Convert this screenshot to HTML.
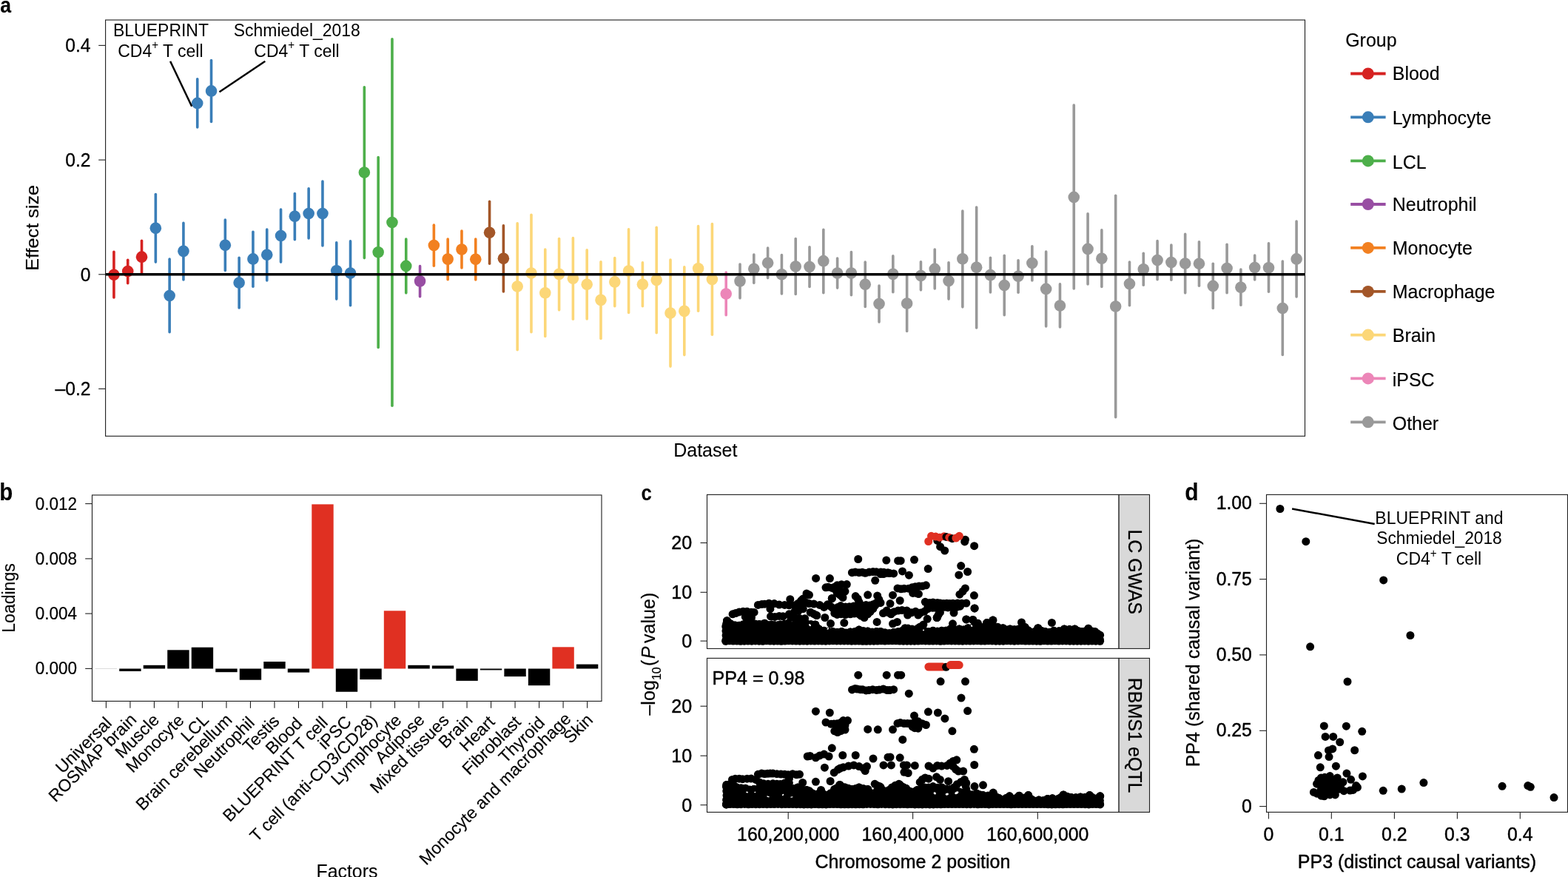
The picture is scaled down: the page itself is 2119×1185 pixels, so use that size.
<!DOCTYPE html>
<html lang="en"><head><meta charset="utf-8"><title>Figure</title>
<style>
html,body{margin:0;padding:0;background:#fff;}
body{width:2119px;height:1185px;overflow:hidden;}
svg{display:block;font-family:'Liberation Sans', Arial, Helvetica, sans-serif;}
text{stroke:#000;stroke-width:0.45px;stroke-linejoin:round;}
</style></head><body>
<svg width="2119" height="1185" viewBox="0 0 2119 1185">
<rect width="2119" height="1185" fill="#fff"/>
<g id="panel-a">
<line x1="153.92" y1="340.22" x2="153.92" y2="401.98" stroke="#D62221" stroke-width="3.6" stroke-linecap="round"/>
<line x1="172.72" y1="351.19" x2="172.72" y2="382.79" stroke="#D62221" stroke-width="3.6" stroke-linecap="round"/>
<line x1="191.52" y1="325.25" x2="191.52" y2="369.71" stroke="#D62221" stroke-width="3.6" stroke-linecap="round"/>
<line x1="210.33" y1="262.59" x2="210.33" y2="354.10" stroke="#3A7EB8" stroke-width="3.6" stroke-linecap="round"/>
<line x1="229.13" y1="350.14" x2="229.13" y2="448.82" stroke="#3A7EB8" stroke-width="3.6" stroke-linecap="round"/>
<line x1="247.93" y1="301.41" x2="247.93" y2="377.94" stroke="#3A7EB8" stroke-width="3.6" stroke-linecap="round"/>
<line x1="266.73" y1="106.70" x2="266.73" y2="171.90" stroke="#3A7EB8" stroke-width="3.6" stroke-linecap="round"/>
<line x1="285.53" y1="81.60" x2="285.53" y2="164.50" stroke="#3A7EB8" stroke-width="3.6" stroke-linecap="round"/>
<line x1="304.34" y1="296.98" x2="304.34" y2="365.49" stroke="#3A7EB8" stroke-width="3.6" stroke-linecap="round"/>
<line x1="323.14" y1="348.24" x2="323.14" y2="415.91" stroke="#3A7EB8" stroke-width="3.6" stroke-linecap="round"/>
<line x1="341.94" y1="313.22" x2="341.94" y2="387.22" stroke="#3A7EB8" stroke-width="3.6" stroke-linecap="round"/>
<line x1="360.74" y1="310.06" x2="360.74" y2="378.99" stroke="#3A7EB8" stroke-width="3.6" stroke-linecap="round"/>
<line x1="379.54" y1="283.06" x2="379.54" y2="354.10" stroke="#3A7EB8" stroke-width="3.6" stroke-linecap="round"/>
<line x1="398.35" y1="261.54" x2="398.35" y2="323.72" stroke="#3A7EB8" stroke-width="3.6" stroke-linecap="round"/>
<line x1="417.15" y1="254.79" x2="417.15" y2="322.04" stroke="#3A7EB8" stroke-width="3.6" stroke-linecap="round"/>
<line x1="435.95" y1="245.09" x2="435.95" y2="331.95" stroke="#3A7EB8" stroke-width="3.6" stroke-linecap="round"/>
<line x1="454.75" y1="327.78" x2="454.75" y2="404.09" stroke="#3A7EB8" stroke-width="3.6" stroke-linecap="round"/>
<line x1="473.55" y1="325.88" x2="473.55" y2="412.74" stroke="#3A7EB8" stroke-width="3.6" stroke-linecap="round"/>
<line x1="492.36" y1="117.70" x2="492.36" y2="348.60" stroke="#4DAF4A" stroke-width="3.6" stroke-linecap="round"/>
<line x1="511.16" y1="212.60" x2="511.16" y2="469.40" stroke="#4DAF4A" stroke-width="3.6" stroke-linecap="round"/>
<line x1="529.96" y1="52.70" x2="529.96" y2="548.20" stroke="#4DAF4A" stroke-width="3.6" stroke-linecap="round"/>
<line x1="548.76" y1="322.93" x2="548.76" y2="395.87" stroke="#4DAF4A" stroke-width="3.6" stroke-linecap="round"/>
<line x1="567.56" y1="359.63" x2="567.56" y2="400.72" stroke="#984EA3" stroke-width="3.6" stroke-linecap="round"/>
<line x1="586.37" y1="304.15" x2="586.37" y2="359.16" stroke="#F28020" stroke-width="3.6" stroke-linecap="round"/>
<line x1="605.17" y1="322.93" x2="605.17" y2="377.73" stroke="#F28020" stroke-width="3.6" stroke-linecap="round"/>
<line x1="623.97" y1="311.96" x2="623.97" y2="361.90" stroke="#F28020" stroke-width="3.6" stroke-linecap="round"/>
<line x1="642.77" y1="322.93" x2="642.77" y2="377.94" stroke="#F28020" stroke-width="3.6" stroke-linecap="round"/>
<line x1="661.57" y1="272.30" x2="661.57" y2="356.21" stroke="#A35628" stroke-width="3.6" stroke-linecap="round"/>
<line x1="680.38" y1="304.78" x2="680.38" y2="393.97" stroke="#A35628" stroke-width="3.6" stroke-linecap="round"/>
<line x1="699.18" y1="301.83" x2="699.18" y2="472.65" stroke="#FCD778" stroke-width="3.6" stroke-linecap="round"/>
<line x1="717.98" y1="290.23" x2="717.98" y2="448.82" stroke="#FCD778" stroke-width="3.6" stroke-linecap="round"/>
<line x1="736.78" y1="337.06" x2="736.78" y2="454.51" stroke="#FCD778" stroke-width="3.6" stroke-linecap="round"/>
<line x1="755.58" y1="322.50" x2="755.58" y2="418.86" stroke="#FCD778" stroke-width="3.6" stroke-linecap="round"/>
<line x1="774.39" y1="321.66" x2="774.39" y2="431.31" stroke="#FCD778" stroke-width="3.6" stroke-linecap="round"/>
<line x1="793.19" y1="337.90" x2="793.19" y2="430.88" stroke="#FCD778" stroke-width="3.6" stroke-linecap="round"/>
<line x1="811.99" y1="353.72" x2="811.99" y2="457.46" stroke="#FCD778" stroke-width="3.6" stroke-linecap="round"/>
<line x1="830.79" y1="348.45" x2="830.79" y2="413.80" stroke="#FCD778" stroke-width="3.6" stroke-linecap="round"/>
<line x1="849.59" y1="309.85" x2="849.59" y2="422.45" stroke="#FCD778" stroke-width="3.6" stroke-linecap="round"/>
<line x1="868.40" y1="354.78" x2="868.40" y2="413.80" stroke="#FCD778" stroke-width="3.6" stroke-linecap="round"/>
<line x1="887.20" y1="307.32" x2="887.20" y2="449.66" stroke="#FCD778" stroke-width="3.6" stroke-linecap="round"/>
<line x1="906.00" y1="350.98" x2="906.00" y2="495.10" stroke="#FCD778" stroke-width="3.6" stroke-linecap="round"/>
<line x1="924.80" y1="360.90" x2="924.80" y2="479.61" stroke="#FCD778" stroke-width="3.6" stroke-linecap="round"/>
<line x1="943.60" y1="305.63" x2="943.60" y2="420.13" stroke="#FCD778" stroke-width="3.6" stroke-linecap="round"/>
<line x1="962.41" y1="302.46" x2="962.41" y2="452.19" stroke="#FCD778" stroke-width="3.6" stroke-linecap="round"/>
<line x1="981.21" y1="368.07" x2="981.21" y2="425.82" stroke="#EC86B8" stroke-width="3.6" stroke-linecap="round"/>
<line x1="1000.01" y1="357.10" x2="1000.01" y2="402.83" stroke="#999999" stroke-width="3.6" stroke-linecap="round"/>
<line x1="1018.81" y1="344.02" x2="1018.81" y2="382.37" stroke="#999999" stroke-width="3.6" stroke-linecap="round"/>
<line x1="1037.61" y1="334.95" x2="1037.61" y2="375.62" stroke="#999999" stroke-width="3.6" stroke-linecap="round"/>
<line x1="1056.42" y1="344.44" x2="1056.42" y2="396.92" stroke="#999999" stroke-width="3.6" stroke-linecap="round"/>
<line x1="1075.22" y1="322.50" x2="1075.22" y2="397.55" stroke="#999999" stroke-width="3.6" stroke-linecap="round"/>
<line x1="1094.02" y1="333.68" x2="1094.02" y2="387.43" stroke="#999999" stroke-width="3.6" stroke-linecap="round"/>
<line x1="1112.82" y1="310.27" x2="1112.82" y2="395.66" stroke="#999999" stroke-width="3.6" stroke-linecap="round"/>
<line x1="1131.62" y1="349.08" x2="1131.62" y2="389.12" stroke="#999999" stroke-width="3.6" stroke-linecap="round"/>
<line x1="1150.43" y1="340.43" x2="1150.43" y2="398.82" stroke="#999999" stroke-width="3.6" stroke-linecap="round"/>
<line x1="1169.23" y1="354.15" x2="1169.23" y2="414.43" stroke="#999999" stroke-width="3.6" stroke-linecap="round"/>
<line x1="1188.03" y1="386.00" x2="1188.03" y2="435.10" stroke="#999999" stroke-width="3.6" stroke-linecap="round"/>
<line x1="1206.83" y1="345.92" x2="1206.83" y2="394.81" stroke="#999999" stroke-width="3.6" stroke-linecap="round"/>
<line x1="1225.63" y1="372.71" x2="1225.63" y2="447.55" stroke="#999999" stroke-width="3.6" stroke-linecap="round"/>
<line x1="1244.44" y1="353.72" x2="1244.44" y2="391.86" stroke="#999999" stroke-width="3.6" stroke-linecap="round"/>
<line x1="1263.24" y1="337.06" x2="1263.24" y2="389.96" stroke="#999999" stroke-width="3.6" stroke-linecap="round"/>
<line x1="1282.04" y1="354.78" x2="1282.04" y2="404.09" stroke="#999999" stroke-width="3.6" stroke-linecap="round"/>
<line x1="1300.84" y1="284.96" x2="1300.84" y2="414.85" stroke="#999999" stroke-width="3.6" stroke-linecap="round"/>
<line x1="1319.64" y1="280.10" x2="1319.64" y2="442.91" stroke="#999999" stroke-width="3.6" stroke-linecap="round"/>
<line x1="1338.45" y1="348.24" x2="1338.45" y2="395.02" stroke="#999999" stroke-width="3.6" stroke-linecap="round"/>
<line x1="1357.25" y1="345.29" x2="1357.25" y2="425.82" stroke="#999999" stroke-width="3.6" stroke-linecap="round"/>
<line x1="1376.05" y1="351.83" x2="1376.05" y2="395.23" stroke="#999999" stroke-width="3.6" stroke-linecap="round"/>
<line x1="1394.85" y1="332.84" x2="1394.85" y2="378.99" stroke="#999999" stroke-width="3.6" stroke-linecap="round"/>
<line x1="1413.65" y1="340.01" x2="1413.65" y2="441.01" stroke="#999999" stroke-width="3.6" stroke-linecap="round"/>
<line x1="1432.46" y1="383.89" x2="1432.46" y2="442.07" stroke="#999999" stroke-width="3.6" stroke-linecap="round"/>
<line x1="1451.26" y1="142.10" x2="1451.26" y2="390.00" stroke="#999999" stroke-width="3.6" stroke-linecap="round"/>
<line x1="1470.06" y1="288.75" x2="1470.06" y2="384.05" stroke="#999999" stroke-width="3.6" stroke-linecap="round"/>
<line x1="1488.86" y1="310.90" x2="1488.86" y2="387.43" stroke="#999999" stroke-width="3.6" stroke-linecap="round"/>
<line x1="1507.66" y1="264.30" x2="1507.66" y2="563.70" stroke="#999999" stroke-width="3.6" stroke-linecap="round"/>
<line x1="1526.47" y1="354.15" x2="1526.47" y2="412.74" stroke="#999999" stroke-width="3.6" stroke-linecap="round"/>
<line x1="1545.27" y1="342.33" x2="1545.27" y2="385.32" stroke="#999999" stroke-width="3.6" stroke-linecap="round"/>
<line x1="1564.07" y1="325.67" x2="1564.07" y2="377.73" stroke="#999999" stroke-width="3.6" stroke-linecap="round"/>
<line x1="1582.87" y1="330.94" x2="1582.87" y2="378.15" stroke="#999999" stroke-width="3.6" stroke-linecap="round"/>
<line x1="1601.67" y1="316.39" x2="1601.67" y2="395.87" stroke="#999999" stroke-width="3.6" stroke-linecap="round"/>
<line x1="1620.48" y1="326.72" x2="1620.48" y2="386.16" stroke="#999999" stroke-width="3.6" stroke-linecap="round"/>
<line x1="1639.28" y1="356.26" x2="1639.28" y2="416.54" stroke="#999999" stroke-width="3.6" stroke-linecap="round"/>
<line x1="1658.08" y1="330.31" x2="1658.08" y2="395.66" stroke="#999999" stroke-width="3.6" stroke-linecap="round"/>
<line x1="1676.88" y1="364.06" x2="1676.88" y2="412.32" stroke="#999999" stroke-width="3.6" stroke-linecap="round"/>
<line x1="1695.68" y1="345.08" x2="1695.68" y2="377.94" stroke="#999999" stroke-width="3.6" stroke-linecap="round"/>
<line x1="1714.49" y1="328.83" x2="1714.49" y2="394.18" stroke="#999999" stroke-width="3.6" stroke-linecap="round"/>
<line x1="1733.29" y1="353.09" x2="1733.29" y2="479.40" stroke="#999999" stroke-width="3.6" stroke-linecap="round"/>
<line x1="1752.09" y1="299.09" x2="1752.09" y2="400.93" stroke="#999999" stroke-width="3.6" stroke-linecap="round"/>
<circle cx="153.92" cy="371.21" r="7.8" fill="#D62221"/>
<circle cx="172.72" cy="366.57" r="7.8" fill="#D62221"/>
<circle cx="191.52" cy="347.16" r="7.8" fill="#D62221"/>
<circle cx="210.33" cy="308.35" r="7.8" fill="#3A7EB8"/>
<circle cx="229.13" cy="399.48" r="7.8" fill="#3A7EB8"/>
<circle cx="247.93" cy="339.36" r="7.8" fill="#3A7EB8"/>
<circle cx="266.73" cy="139.40" r="7.8" fill="#3A7EB8"/>
<circle cx="285.53" cy="122.90" r="7.8" fill="#3A7EB8"/>
<circle cx="304.34" cy="331.34" r="7.8" fill="#3A7EB8"/>
<circle cx="323.14" cy="381.97" r="7.8" fill="#3A7EB8"/>
<circle cx="341.94" cy="349.90" r="7.8" fill="#3A7EB8"/>
<circle cx="360.74" cy="344.21" r="7.8" fill="#3A7EB8"/>
<circle cx="379.54" cy="318.47" r="7.8" fill="#3A7EB8"/>
<circle cx="398.35" cy="292.32" r="7.8" fill="#3A7EB8"/>
<circle cx="417.15" cy="288.52" r="7.8" fill="#3A7EB8"/>
<circle cx="435.95" cy="288.52" r="7.8" fill="#3A7EB8"/>
<circle cx="454.75" cy="365.73" r="7.8" fill="#3A7EB8"/>
<circle cx="473.55" cy="369.10" r="7.8" fill="#3A7EB8"/>
<circle cx="492.36" cy="233.10" r="7.8" fill="#4DAF4A"/>
<circle cx="511.16" cy="340.80" r="7.8" fill="#4DAF4A"/>
<circle cx="529.96" cy="300.50" r="7.8" fill="#4DAF4A"/>
<circle cx="548.76" cy="359.40" r="7.8" fill="#4DAF4A"/>
<circle cx="567.56" cy="379.86" r="7.8" fill="#984EA3"/>
<circle cx="586.37" cy="331.55" r="7.8" fill="#F28020"/>
<circle cx="605.17" cy="350.11" r="7.8" fill="#F28020"/>
<circle cx="623.97" cy="337.04" r="7.8" fill="#F28020"/>
<circle cx="642.77" cy="350.33" r="7.8" fill="#F28020"/>
<circle cx="661.57" cy="314.25" r="7.8" fill="#A35628"/>
<circle cx="680.38" cy="349.27" r="7.8" fill="#A35628"/>
<circle cx="699.18" cy="387.03" r="7.8" fill="#FCD778"/>
<circle cx="717.98" cy="369.10" r="7.8" fill="#FCD778"/>
<circle cx="736.78" cy="395.68" r="7.8" fill="#FCD778"/>
<circle cx="755.58" cy="370.37" r="7.8" fill="#FCD778"/>
<circle cx="774.39" cy="376.27" r="7.8" fill="#FCD778"/>
<circle cx="793.19" cy="384.29" r="7.8" fill="#FCD778"/>
<circle cx="811.99" cy="405.38" r="7.8" fill="#FCD778"/>
<circle cx="830.79" cy="380.91" r="7.8" fill="#FCD778"/>
<circle cx="849.59" cy="365.94" r="7.8" fill="#FCD778"/>
<circle cx="868.40" cy="384.29" r="7.8" fill="#FCD778"/>
<circle cx="887.20" cy="378.38" r="7.8" fill="#FCD778"/>
<circle cx="906.00" cy="423.10" r="7.8" fill="#FCD778"/>
<circle cx="924.80" cy="420.36" r="7.8" fill="#FCD778"/>
<circle cx="943.60" cy="362.77" r="7.8" fill="#FCD778"/>
<circle cx="962.41" cy="377.54" r="7.8" fill="#FCD778"/>
<circle cx="981.21" cy="396.95" r="7.8" fill="#EC86B8"/>
<circle cx="1000.01" cy="379.86" r="7.8" fill="#999999"/>
<circle cx="1018.81" cy="363.19" r="7.8" fill="#999999"/>
<circle cx="1037.61" cy="355.18" r="7.8" fill="#999999"/>
<circle cx="1056.42" cy="370.79" r="7.8" fill="#999999"/>
<circle cx="1075.22" cy="360.03" r="7.8" fill="#999999"/>
<circle cx="1094.02" cy="360.45" r="7.8" fill="#999999"/>
<circle cx="1112.82" cy="352.65" r="7.8" fill="#999999"/>
<circle cx="1131.62" cy="369.10" r="7.8" fill="#999999"/>
<circle cx="1150.43" cy="369.10" r="7.8" fill="#999999"/>
<circle cx="1169.23" cy="384.29" r="7.8" fill="#999999"/>
<circle cx="1188.03" cy="410.45" r="7.8" fill="#999999"/>
<circle cx="1206.83" cy="370.37" r="7.8" fill="#999999"/>
<circle cx="1225.63" cy="410.02" r="7.8" fill="#999999"/>
<circle cx="1244.44" cy="372.48" r="7.8" fill="#999999"/>
<circle cx="1263.24" cy="363.40" r="7.8" fill="#999999"/>
<circle cx="1282.04" cy="379.44" r="7.8" fill="#999999"/>
<circle cx="1300.84" cy="349.69" r="7.8" fill="#999999"/>
<circle cx="1319.64" cy="361.30" r="7.8" fill="#999999"/>
<circle cx="1338.45" cy="371.63" r="7.8" fill="#999999"/>
<circle cx="1357.25" cy="385.55" r="7.8" fill="#999999"/>
<circle cx="1376.05" cy="373.32" r="7.8" fill="#999999"/>
<circle cx="1394.85" cy="355.60" r="7.8" fill="#999999"/>
<circle cx="1413.65" cy="390.41" r="7.8" fill="#999999"/>
<circle cx="1432.46" cy="412.98" r="7.8" fill="#999999"/>
<circle cx="1451.26" cy="266.40" r="7.8" fill="#999999"/>
<circle cx="1470.06" cy="336.40" r="7.8" fill="#999999"/>
<circle cx="1488.86" cy="349.27" r="7.8" fill="#999999"/>
<circle cx="1507.66" cy="414.03" r="7.8" fill="#999999"/>
<circle cx="1526.47" cy="383.44" r="7.8" fill="#999999"/>
<circle cx="1545.27" cy="363.83" r="7.8" fill="#999999"/>
<circle cx="1564.07" cy="351.59" r="7.8" fill="#999999"/>
<circle cx="1582.87" cy="354.54" r="7.8" fill="#999999"/>
<circle cx="1601.67" cy="356.02" r="7.8" fill="#999999"/>
<circle cx="1620.48" cy="356.23" r="7.8" fill="#999999"/>
<circle cx="1639.28" cy="386.40" r="7.8" fill="#999999"/>
<circle cx="1658.08" cy="362.56" r="7.8" fill="#999999"/>
<circle cx="1676.88" cy="388.30" r="7.8" fill="#999999"/>
<circle cx="1695.68" cy="361.51" r="7.8" fill="#999999"/>
<circle cx="1714.49" cy="361.72" r="7.8" fill="#999999"/>
<circle cx="1733.29" cy="416.56" r="7.8" fill="#999999"/>
<circle cx="1752.09" cy="349.90" r="7.8" fill="#999999"/>
<line x1="142.60" y1="370.80" x2="1763.50" y2="370.80" stroke="#000" stroke-width="3.6"/>
<rect x="142.60" y="27.00" width="1620.90" height="562.30" fill="none" stroke="#202020" stroke-width="1.12"/>
<line x1="133.20" y1="61.40" x2="142.60" y2="61.40" stroke="#202020" stroke-width="1.1"/>
<text font-size="26" text-anchor="end" transform="translate(122.50 70.20) scale(0.95 1)" style="stroke-width:0.3px">0.4</text>
<line x1="133.20" y1="216.10" x2="142.60" y2="216.10" stroke="#202020" stroke-width="1.1"/>
<text font-size="26" text-anchor="end" transform="translate(122.50 224.90) scale(0.95 1)" style="stroke-width:0.3px">0.2</text>
<line x1="133.20" y1="370.80" x2="142.60" y2="370.80" stroke="#202020" stroke-width="1.1"/>
<text font-size="26" text-anchor="end" transform="translate(122.50 379.60) scale(0.95 1)" style="stroke-width:0.3px">0</text>
<line x1="133.20" y1="525.40" x2="142.60" y2="525.40" stroke="#202020" stroke-width="1.1"/>
<text font-size="26" text-anchor="end" transform="translate(122.50 534.20) scale(0.95 1)" style="stroke-width:0.3px">–0.2</text>
<text font-size="24.5" text-anchor="middle" transform="translate(51.80 307.90) rotate(-90) scale(1.03 1)" style="stroke-width:0.15px">Effect size</text>
<text font-size="25" text-anchor="middle" x="953.30" y="616.60" style="stroke-width:0.1px">Dataset</text>
<text font-size="24.2" text-anchor="middle" transform="translate(217.50 49.40) scale(0.95 1)" style="stroke:none">BLUEPRINT</text>
<text font-size="24.2" text-anchor="middle" transform="translate(216.90 76.70) scale(0.95 1)" style="stroke:none">CD4<tspan dy="-10.4" font-size="16">+</tspan><tspan dy="10.4"> T cell</tspan></text>
<text font-size="24.2" text-anchor="middle" transform="translate(401.30 49.40) scale(0.95 1)" style="stroke:none">Schmiedel_2018</text>
<text font-size="24.2" text-anchor="middle" transform="translate(401.00 76.70) scale(0.95 1)" style="stroke:none">CD4<tspan dy="-10.4" font-size="16">+</tspan><tspan dy="10.4"> T cell</tspan></text>
<line x1="230.10" y1="82.70" x2="259.20" y2="143.80" stroke="#000" stroke-width="2.5"/>
<line x1="358.30" y1="82.70" x2="296.50" y2="124.20" stroke="#000" stroke-width="2.5"/>
<text font-size="30" transform="translate(0.30 17.30) scale(0.89 1)" font-weight="bold" style="stroke-width:0.1px">a</text>
<text font-size="25.2" transform="translate(1818.20 62.50) scale(0.99 1)" style="stroke-width:0.15px">Group</text>
<line x1="1825.20" y1="99.50" x2="1872.60" y2="99.50" stroke="#D62221" stroke-width="3.8"/>
<circle cx="1848.80" cy="99.50" r="8.0" fill="#D62221"/>
<text font-size="25.2" transform="translate(1881.80 107.60) scale(0.99 1)" style="stroke-width:0.15px">Blood</text>
<line x1="1825.20" y1="158.30" x2="1872.60" y2="158.30" stroke="#3A7EB8" stroke-width="3.8"/>
<circle cx="1848.80" cy="158.30" r="8.0" fill="#3A7EB8"/>
<text font-size="25.2" transform="translate(1881.80 168.10) scale(0.99 1)" style="stroke-width:0.15px">Lymphocyte</text>
<line x1="1825.20" y1="217.40" x2="1872.60" y2="217.40" stroke="#4DAF4A" stroke-width="3.8"/>
<circle cx="1848.80" cy="217.40" r="8.0" fill="#4DAF4A"/>
<text font-size="25.2" transform="translate(1881.80 228.00) scale(0.99 1)" style="stroke-width:0.15px">LCL</text>
<line x1="1825.20" y1="276.00" x2="1872.60" y2="276.00" stroke="#984EA3" stroke-width="3.8"/>
<circle cx="1848.80" cy="276.00" r="8.0" fill="#984EA3"/>
<text font-size="25.2" transform="translate(1881.80 284.90) scale(0.99 1)" style="stroke-width:0.15px">Neutrophil</text>
<line x1="1825.20" y1="334.90" x2="1872.60" y2="334.90" stroke="#F28020" stroke-width="3.8"/>
<circle cx="1848.80" cy="334.90" r="8.0" fill="#F28020"/>
<text font-size="25.2" transform="translate(1881.80 343.80) scale(0.99 1)" style="stroke-width:0.15px">Monocyte</text>
<line x1="1825.20" y1="393.90" x2="1872.60" y2="393.90" stroke="#A35628" stroke-width="3.8"/>
<circle cx="1848.80" cy="393.90" r="8.0" fill="#A35628"/>
<text font-size="25.2" transform="translate(1881.80 403.20) scale(0.99 1)" style="stroke-width:0.15px">Macrophage</text>
<line x1="1825.20" y1="452.60" x2="1872.60" y2="452.60" stroke="#FCD778" stroke-width="3.8"/>
<circle cx="1848.80" cy="452.60" r="8.0" fill="#FCD778"/>
<text font-size="25.2" transform="translate(1881.80 461.60) scale(0.99 1)" style="stroke-width:0.15px">Brain</text>
<line x1="1825.20" y1="511.40" x2="1872.60" y2="511.40" stroke="#EC86B8" stroke-width="3.8"/>
<circle cx="1848.80" cy="511.40" r="8.0" fill="#EC86B8"/>
<text font-size="25.2" transform="translate(1881.80 522.00) scale(0.99 1)" style="stroke-width:0.15px">iPSC</text>
<line x1="1825.20" y1="570.30" x2="1872.60" y2="570.30" stroke="#999999" stroke-width="3.8"/>
<circle cx="1848.80" cy="570.30" r="8.0" fill="#999999"/>
<text font-size="25.2" transform="translate(1881.80 581.00) scale(0.99 1)" style="stroke-width:0.15px">Other</text>
</g>
<g id="panel-b">
<rect x="128.70" y="903.20" width="29.40" height="0.30" fill="#888"/>
<rect x="161.21" y="903.50" width="29.40" height="3.45" fill="#000"/>
<rect x="193.72" y="898.80" width="29.40" height="4.70" fill="#000"/>
<rect x="226.23" y="878.30" width="29.40" height="25.20" fill="#000"/>
<rect x="258.74" y="874.70" width="29.40" height="28.80" fill="#000"/>
<rect x="291.25" y="903.50" width="29.40" height="4.70" fill="#000"/>
<rect x="323.76" y="903.50" width="29.40" height="15.20" fill="#000"/>
<rect x="356.27" y="894.00" width="29.40" height="9.50" fill="#000"/>
<rect x="388.78" y="903.50" width="29.40" height="5.10" fill="#000"/>
<rect x="421.29" y="681.40" width="29.40" height="222.10" fill="#E03022"/>
<rect x="453.80" y="903.50" width="29.40" height="31.25" fill="#000"/>
<rect x="486.31" y="903.50" width="29.40" height="14.60" fill="#000"/>
<rect x="518.82" y="825.30" width="29.40" height="78.20" fill="#E03022"/>
<rect x="551.33" y="898.80" width="29.40" height="4.70" fill="#000"/>
<rect x="583.84" y="899.40" width="29.40" height="4.10" fill="#000"/>
<rect x="616.35" y="903.50" width="29.40" height="16.40" fill="#000"/>
<rect x="648.86" y="903.50" width="29.40" height="1.90" fill="#000"/>
<rect x="681.37" y="903.50" width="29.40" height="10.60" fill="#000"/>
<rect x="713.88" y="903.50" width="29.40" height="22.70" fill="#000"/>
<rect x="746.39" y="874.30" width="29.40" height="29.20" fill="#E03022"/>
<rect x="778.90" y="897.60" width="29.40" height="5.90" fill="#000"/>
<rect x="124.50" y="668.95" width="688.50" height="278.50" fill="none" stroke="#202020" stroke-width="1.12"/>
<line x1="115.20" y1="680.60" x2="124.50" y2="680.60" stroke="#202020" stroke-width="1.1"/>
<text font-size="24.1" text-anchor="end" transform="translate(104.00 688.50) scale(0.935 1)" style="stroke-width:0.2px">0.012</text>
<line x1="115.20" y1="754.90" x2="124.50" y2="754.90" stroke="#202020" stroke-width="1.1"/>
<text font-size="24.1" text-anchor="end" transform="translate(104.00 762.80) scale(0.935 1)" style="stroke-width:0.2px">0.008</text>
<line x1="115.20" y1="829.10" x2="124.50" y2="829.10" stroke="#202020" stroke-width="1.1"/>
<text font-size="24.1" text-anchor="end" transform="translate(104.00 837.00) scale(0.935 1)" style="stroke-width:0.2px">0.004</text>
<line x1="115.20" y1="903.40" x2="124.50" y2="903.40" stroke="#202020" stroke-width="1.1"/>
<text font-size="24.1" text-anchor="end" transform="translate(104.00 911.30) scale(0.935 1)" style="stroke-width:0.2px">0.000</text>
<line x1="143.40" y1="947.45" x2="143.40" y2="956.85" stroke="#202020" stroke-width="1.1"/>
<text font-size="23" text-anchor="end" transform="translate(152.40 978.50) rotate(-45) scale(1.0 1)" style="stroke-width:0.15px">Universal</text>
<line x1="175.91" y1="947.45" x2="175.91" y2="956.85" stroke="#202020" stroke-width="1.1"/>
<text font-size="23" text-anchor="end" transform="translate(185.81 973.80) rotate(-45) scale(1.0 1)" style="stroke-width:0.15px">ROSMAP brain</text>
<line x1="208.42" y1="947.45" x2="208.42" y2="956.85" stroke="#202020" stroke-width="1.1"/>
<text font-size="23" text-anchor="end" transform="translate(216.52 974.20) rotate(-45) scale(1.0 1)" style="stroke-width:0.15px">Muscle</text>
<line x1="240.93" y1="947.45" x2="240.93" y2="956.85" stroke="#202020" stroke-width="1.1"/>
<text font-size="23" text-anchor="end" transform="translate(249.93 974.70) rotate(-45) scale(1.0 1)" style="stroke-width:0.15px">Monocyte</text>
<line x1="273.44" y1="947.45" x2="273.44" y2="956.85" stroke="#202020" stroke-width="1.1"/>
<text font-size="23" text-anchor="end" transform="translate(283.64 974.00) rotate(-45) scale(1.0 1)" style="stroke-width:0.15px">LCL</text>
<line x1="305.95" y1="947.45" x2="305.95" y2="956.85" stroke="#202020" stroke-width="1.1"/>
<text font-size="23" text-anchor="end" transform="translate(314.95 974.20) rotate(-45) scale(1.0 1)" style="stroke-width:0.15px">Brain cerebellum</text>
<line x1="338.46" y1="947.45" x2="338.46" y2="956.85" stroke="#202020" stroke-width="1.1"/>
<text font-size="23" text-anchor="end" transform="translate(345.26 978.00) rotate(-45) scale(1.0 1)" style="stroke-width:0.15px">Neutrophil</text>
<line x1="370.97" y1="947.45" x2="370.97" y2="956.85" stroke="#202020" stroke-width="1.1"/>
<text font-size="23" text-anchor="end" transform="translate(378.97 975.80) rotate(-45) scale(1.0 1)" style="stroke-width:0.15px">Testis</text>
<line x1="403.48" y1="947.45" x2="403.48" y2="956.85" stroke="#202020" stroke-width="1.1"/>
<text font-size="23" text-anchor="end" transform="translate(409.88 978.90) rotate(-45) scale(1.0 1)" style="stroke-width:0.15px">Blood</text>
<line x1="435.99" y1="947.45" x2="435.99" y2="956.85" stroke="#202020" stroke-width="1.1"/>
<text font-size="23" text-anchor="end" transform="translate(444.39 977.70) rotate(-45) scale(1.0 1)" style="stroke-width:0.15px">BLUEPRINT T cell</text>
<line x1="468.50" y1="947.45" x2="468.50" y2="956.85" stroke="#202020" stroke-width="1.1"/>
<text font-size="23" text-anchor="end" transform="translate(476.30 976.70) rotate(-45) scale(1.0 1)" style="stroke-width:0.15px">iPSC</text>
<line x1="501.01" y1="947.45" x2="501.01" y2="956.85" stroke="#202020" stroke-width="1.1"/>
<text font-size="23" text-anchor="end" transform="translate(511.21 974.60) rotate(-45) scale(1.0 1)" style="stroke-width:0.15px">T cell (anti-CD3/CD28)</text>
<line x1="533.52" y1="947.45" x2="533.52" y2="956.85" stroke="#202020" stroke-width="1.1"/>
<text font-size="23" text-anchor="end" transform="translate(543.72 974.80) rotate(-45) scale(1.0 1)" style="stroke-width:0.15px">Lymphocyte</text>
<line x1="566.03" y1="947.45" x2="566.03" y2="956.85" stroke="#202020" stroke-width="1.1"/>
<text font-size="23" text-anchor="end" transform="translate(575.03 974.20) rotate(-45) scale(1.0 1)" style="stroke-width:0.15px">Adipose</text>
<line x1="598.54" y1="947.45" x2="598.54" y2="956.85" stroke="#202020" stroke-width="1.1"/>
<text font-size="23" text-anchor="end" transform="translate(608.04 974.70) rotate(-45) scale(1.0 1)" style="stroke-width:0.15px">Mixed tissues</text>
<line x1="631.05" y1="947.45" x2="631.05" y2="956.85" stroke="#202020" stroke-width="1.1"/>
<text font-size="23" text-anchor="end" transform="translate(640.05 974.20) rotate(-45) scale(1.0 1)" style="stroke-width:0.15px">Brain</text>
<line x1="663.56" y1="947.45" x2="663.56" y2="956.85" stroke="#202020" stroke-width="1.1"/>
<text font-size="23" text-anchor="end" transform="translate(670.06 976.70) rotate(-45) scale(1.0 1)" style="stroke-width:0.15px">Heart</text>
<line x1="696.07" y1="947.45" x2="696.07" y2="956.85" stroke="#202020" stroke-width="1.1"/>
<text font-size="23" text-anchor="end" transform="translate(705.37 976.90) rotate(-45) scale(1.0 1)" style="stroke-width:0.15px">Fibroblast</text>
<line x1="728.58" y1="947.45" x2="728.58" y2="956.85" stroke="#202020" stroke-width="1.1"/>
<text font-size="23" text-anchor="end" transform="translate(737.58 978.00) rotate(-45) scale(1.0 1)" style="stroke-width:0.15px">Thyroid</text>
<line x1="761.09" y1="947.45" x2="761.09" y2="956.85" stroke="#202020" stroke-width="1.1"/>
<text font-size="23" text-anchor="end" transform="translate(773.09 972.80) rotate(-45) scale(1.0 1)" style="stroke-width:0.15px">Monocyte and macrophage</text>
<line x1="793.60" y1="947.45" x2="793.60" y2="956.85" stroke="#202020" stroke-width="1.1"/>
<text font-size="23" text-anchor="end" transform="translate(802.60 974.20) rotate(-45) scale(1.0 1)" style="stroke-width:0.15px">Skin</text>
<text font-size="23" text-anchor="middle" transform="translate(20.40 808.00) rotate(-90)" style="stroke-width:0.15px">Loadings</text>
<text font-size="26.6" text-anchor="middle" transform="translate(468.90 1185.60) scale(0.935 1)" style="stroke-width:0.1px">Factors</text>
<text font-size="32.7" transform="translate(-0.70 676.40) scale(0.9 1)" font-weight="bold" style="stroke-width:0.1px">b</text>
</g>
<g id="panel-c">
<g fill="#000" stroke="#000" stroke-width="11" stroke-linecap="round" stroke-linejoin="round">
<polygon points="980.8,866.3 980.8,846.4 982.5,838.7 987.2,842.8 999.0,845.2 1009.6,840.4 1026.2,843.4 1033.3,842.2 1042.7,844.0 1066.4,841.6 1090.0,842.8 1101.8,844.0 1106.5,849.9 1113.6,852.3 1125.4,853.4 1137.3,853.4 1149.1,854.0 1160.9,851.1 1172.7,852.9 1184.5,853.4 1190.0,853.4 1207.7,854.6 1219.5,852.3 1237.3,853.4 1249.1,852.3 1260.9,852.3 1272.7,852.3 1284.5,849.9 1296.4,849.9 1308.2,848.7 1320.0,846.4 1331.8,846.4 1341.3,844.0 1355.4,848.7 1356.7,849.9 1365.0,849.9 1376.8,849.9 1385.1,847.5 1394.5,854.6 1402.8,848.7 1412.3,853.4 1424.1,852.3 1438.3,849.9 1452.4,849.9 1461.9,853.4 1470.8,849.3 1479.6,853.4 1486.6,858.2 1486.6,866.3" stroke="none"/>
<circle cx="981.6" cy="846.4" r="5.5" stroke="none"/>
<circle cx="981.0" cy="852.4" r="5.5" stroke="none"/>
<circle cx="981.1" cy="858.4" r="5.5" stroke="none"/>
<circle cx="981.2" cy="864.4" r="5.5" stroke="none"/>
<circle cx="980.8" cy="866.3" r="5.5" stroke="none"/>
<circle cx="1486.1" cy="858.2" r="5.5" stroke="none"/>
<circle cx="1486.4" cy="864.2" r="5.5" stroke="none"/>
<circle cx="1486.6" cy="866.3" r="5.5" stroke="none"/>
<circle cx="980.8" cy="865.9" r="5.5" stroke="none"/>
<circle cx="985.8" cy="865.8" r="5.5" stroke="none"/>
<circle cx="990.8" cy="866.1" r="5.5" stroke="none"/>
<circle cx="995.8" cy="866.1" r="5.5" stroke="none"/>
<circle cx="1000.8" cy="866.3" r="5.5" stroke="none"/>
<circle cx="1005.8" cy="866.2" r="5.5" stroke="none"/>
<circle cx="1010.8" cy="866.1" r="5.5" stroke="none"/>
<circle cx="1015.8" cy="866.2" r="5.5" stroke="none"/>
<circle cx="1020.8" cy="865.9" r="5.5" stroke="none"/>
<circle cx="1025.8" cy="866.2" r="5.5" stroke="none"/>
<circle cx="1030.8" cy="866.3" r="5.5" stroke="none"/>
<circle cx="1035.8" cy="865.8" r="5.5" stroke="none"/>
<circle cx="1040.8" cy="866.0" r="5.5" stroke="none"/>
<circle cx="1045.8" cy="866.2" r="5.5" stroke="none"/>
<circle cx="1050.8" cy="866.0" r="5.5" stroke="none"/>
<circle cx="1055.8" cy="866.3" r="5.5" stroke="none"/>
<circle cx="1060.8" cy="866.0" r="5.5" stroke="none"/>
<circle cx="1065.8" cy="865.8" r="5.5" stroke="none"/>
<circle cx="1070.8" cy="865.9" r="5.5" stroke="none"/>
<circle cx="1075.8" cy="866.0" r="5.5" stroke="none"/>
<circle cx="1080.8" cy="866.2" r="5.5" stroke="none"/>
<circle cx="1085.8" cy="866.1" r="5.5" stroke="none"/>
<circle cx="1090.8" cy="866.2" r="5.5" stroke="none"/>
<circle cx="1095.8" cy="865.9" r="5.5" stroke="none"/>
<circle cx="1100.8" cy="866.0" r="5.5" stroke="none"/>
<circle cx="1105.8" cy="865.9" r="5.5" stroke="none"/>
<circle cx="1110.8" cy="866.1" r="5.5" stroke="none"/>
<circle cx="1115.8" cy="866.2" r="5.5" stroke="none"/>
<circle cx="1120.8" cy="865.9" r="5.5" stroke="none"/>
<circle cx="1125.8" cy="865.8" r="5.5" stroke="none"/>
<circle cx="1130.8" cy="865.9" r="5.5" stroke="none"/>
<circle cx="1135.8" cy="865.9" r="5.5" stroke="none"/>
<circle cx="1140.8" cy="865.9" r="5.5" stroke="none"/>
<circle cx="1145.8" cy="865.9" r="5.5" stroke="none"/>
<circle cx="1150.8" cy="866.2" r="5.5" stroke="none"/>
<circle cx="1155.8" cy="866.0" r="5.5" stroke="none"/>
<circle cx="1160.8" cy="866.1" r="5.5" stroke="none"/>
<circle cx="1165.8" cy="866.3" r="5.5" stroke="none"/>
<circle cx="1170.8" cy="866.3" r="5.5" stroke="none"/>
<circle cx="1175.8" cy="866.2" r="5.5" stroke="none"/>
<circle cx="1180.8" cy="866.2" r="5.5" stroke="none"/>
<circle cx="1185.8" cy="866.0" r="5.5" stroke="none"/>
<circle cx="1190.8" cy="865.8" r="5.5" stroke="none"/>
<circle cx="1195.8" cy="866.1" r="5.5" stroke="none"/>
<circle cx="1200.8" cy="865.8" r="5.5" stroke="none"/>
<circle cx="1205.8" cy="865.8" r="5.5" stroke="none"/>
<circle cx="1210.8" cy="865.8" r="5.5" stroke="none"/>
<circle cx="1215.8" cy="866.1" r="5.5" stroke="none"/>
<circle cx="1220.8" cy="866.2" r="5.5" stroke="none"/>
<circle cx="1225.8" cy="866.2" r="5.5" stroke="none"/>
<circle cx="1230.8" cy="866.2" r="5.5" stroke="none"/>
<circle cx="1235.8" cy="866.2" r="5.5" stroke="none"/>
<circle cx="1240.8" cy="866.0" r="5.5" stroke="none"/>
<circle cx="1245.8" cy="865.8" r="5.5" stroke="none"/>
<circle cx="1250.8" cy="865.9" r="5.5" stroke="none"/>
<circle cx="1255.8" cy="866.1" r="5.5" stroke="none"/>
<circle cx="1260.8" cy="866.0" r="5.5" stroke="none"/>
<circle cx="1265.8" cy="865.9" r="5.5" stroke="none"/>
<circle cx="1270.8" cy="866.3" r="5.5" stroke="none"/>
<circle cx="1275.8" cy="866.0" r="5.5" stroke="none"/>
<circle cx="1280.8" cy="865.8" r="5.5" stroke="none"/>
<circle cx="1285.8" cy="865.9" r="5.5" stroke="none"/>
<circle cx="1290.8" cy="865.9" r="5.5" stroke="none"/>
<circle cx="1295.8" cy="866.1" r="5.5" stroke="none"/>
<circle cx="1300.8" cy="866.2" r="5.5" stroke="none"/>
<circle cx="1305.8" cy="865.9" r="5.5" stroke="none"/>
<circle cx="1310.8" cy="866.1" r="5.5" stroke="none"/>
<circle cx="1315.8" cy="865.9" r="5.5" stroke="none"/>
<circle cx="1320.8" cy="865.8" r="5.5" stroke="none"/>
<circle cx="1325.8" cy="866.1" r="5.5" stroke="none"/>
<circle cx="1330.8" cy="866.1" r="5.5" stroke="none"/>
<circle cx="1335.8" cy="865.8" r="5.5" stroke="none"/>
<circle cx="1340.8" cy="865.9" r="5.5" stroke="none"/>
<circle cx="1345.8" cy="866.2" r="5.5" stroke="none"/>
<circle cx="1350.8" cy="866.2" r="5.5" stroke="none"/>
<circle cx="1355.8" cy="866.2" r="5.5" stroke="none"/>
<circle cx="1360.8" cy="865.8" r="5.5" stroke="none"/>
<circle cx="1365.8" cy="865.9" r="5.5" stroke="none"/>
<circle cx="1370.8" cy="866.2" r="5.5" stroke="none"/>
<circle cx="1375.8" cy="865.9" r="5.5" stroke="none"/>
<circle cx="1380.8" cy="865.8" r="5.5" stroke="none"/>
<circle cx="1385.8" cy="866.0" r="5.5" stroke="none"/>
<circle cx="1390.8" cy="866.1" r="5.5" stroke="none"/>
<circle cx="1395.8" cy="866.0" r="5.5" stroke="none"/>
<circle cx="1400.8" cy="866.2" r="5.5" stroke="none"/>
<circle cx="1405.8" cy="866.3" r="5.5" stroke="none"/>
<circle cx="1410.8" cy="865.8" r="5.5" stroke="none"/>
<circle cx="1415.8" cy="866.0" r="5.5" stroke="none"/>
<circle cx="1420.8" cy="866.0" r="5.5" stroke="none"/>
<circle cx="1425.8" cy="865.8" r="5.5" stroke="none"/>
<circle cx="1430.8" cy="866.1" r="5.5" stroke="none"/>
<circle cx="1435.8" cy="865.9" r="5.5" stroke="none"/>
<circle cx="1440.8" cy="865.9" r="5.5" stroke="none"/>
<circle cx="1445.8" cy="866.2" r="5.5" stroke="none"/>
<circle cx="1450.8" cy="866.2" r="5.5" stroke="none"/>
<circle cx="1455.8" cy="866.2" r="5.5" stroke="none"/>
<circle cx="1460.8" cy="866.2" r="5.5" stroke="none"/>
<circle cx="1465.8" cy="866.0" r="5.5" stroke="none"/>
<circle cx="1470.8" cy="866.2" r="5.5" stroke="none"/>
<circle cx="1475.8" cy="866.1" r="5.5" stroke="none"/>
<circle cx="1480.8" cy="866.2" r="5.5" stroke="none"/>
<circle cx="1485.8" cy="865.8" r="5.5" stroke="none"/>
<circle cx="980.8" cy="846.4" r="5.5" stroke="none"/>
<circle cx="981.6" cy="843.1" r="5.5" stroke="none"/>
<circle cx="982.5" cy="838.7" r="5.5" stroke="none"/>
<circle cx="982.5" cy="838.7" r="5.5" stroke="none"/>
<circle cx="987.2" cy="842.8" r="5.5" stroke="none"/>
<circle cx="987.2" cy="842.8" r="5.5" stroke="none"/>
<circle cx="993.1" cy="844.7" r="5.5" stroke="none"/>
<circle cx="999.0" cy="845.2" r="5.5" stroke="none"/>
<circle cx="999.0" cy="845.2" r="5.5" stroke="none"/>
<circle cx="1004.3" cy="843.7" r="5.5" stroke="none"/>
<circle cx="1009.6" cy="840.4" r="5.5" stroke="none"/>
<circle cx="1009.6" cy="840.4" r="5.5" stroke="none"/>
<circle cx="1015.1" cy="842.9" r="5.5" stroke="none"/>
<circle cx="1020.7" cy="843.1" r="5.5" stroke="none"/>
<circle cx="1026.2" cy="843.4" r="5.5" stroke="none"/>
<circle cx="1026.2" cy="843.4" r="5.5" stroke="none"/>
<circle cx="1033.3" cy="842.2" r="5.5" stroke="none"/>
<circle cx="1033.3" cy="842.2" r="5.5" stroke="none"/>
<circle cx="1038.0" cy="844.6" r="5.5" stroke="none"/>
<circle cx="1042.7" cy="844.0" r="5.5" stroke="none"/>
<circle cx="1042.7" cy="844.0" r="5.5" stroke="none"/>
<circle cx="1048.6" cy="844.2" r="5.5" stroke="none"/>
<circle cx="1054.5" cy="843.7" r="5.5" stroke="none"/>
<circle cx="1060.4" cy="843.1" r="5.5" stroke="none"/>
<circle cx="1066.4" cy="841.6" r="5.5" stroke="none"/>
<circle cx="1066.4" cy="841.6" r="5.5" stroke="none"/>
<circle cx="1072.3" cy="842.0" r="5.5" stroke="none"/>
<circle cx="1078.2" cy="842.9" r="5.5" stroke="none"/>
<circle cx="1084.1" cy="842.8" r="5.5" stroke="none"/>
<circle cx="1090.0" cy="842.8" r="5.5" stroke="none"/>
<circle cx="1090.0" cy="842.8" r="5.5" stroke="none"/>
<circle cx="1095.9" cy="843.4" r="5.5" stroke="none"/>
<circle cx="1101.8" cy="844.0" r="5.5" stroke="none"/>
<circle cx="1101.8" cy="844.0" r="5.5" stroke="none"/>
<circle cx="1104.2" cy="848.2" r="5.5" stroke="none"/>
<circle cx="1106.5" cy="849.9" r="5.5" stroke="none"/>
<circle cx="1106.5" cy="849.9" r="5.5" stroke="none"/>
<circle cx="1113.6" cy="852.3" r="5.5" stroke="none"/>
<circle cx="1113.6" cy="852.3" r="5.5" stroke="none"/>
<circle cx="1119.5" cy="853.1" r="5.5" stroke="none"/>
<circle cx="1125.4" cy="853.4" r="5.5" stroke="none"/>
<circle cx="1125.4" cy="853.4" r="5.5" stroke="none"/>
<circle cx="1131.3" cy="854.2" r="5.5" stroke="none"/>
<circle cx="1137.3" cy="853.4" r="5.5" stroke="none"/>
<circle cx="1137.3" cy="853.4" r="5.5" stroke="none"/>
<circle cx="1143.2" cy="854.9" r="5.5" stroke="none"/>
<circle cx="1149.1" cy="854.0" r="5.5" stroke="none"/>
<circle cx="1149.1" cy="854.0" r="5.5" stroke="none"/>
<circle cx="1155.0" cy="853.4" r="5.5" stroke="none"/>
<circle cx="1160.9" cy="851.1" r="5.5" stroke="none"/>
<circle cx="1160.9" cy="851.1" r="5.5" stroke="none"/>
<circle cx="1166.8" cy="852.5" r="5.5" stroke="none"/>
<circle cx="1172.7" cy="852.9" r="5.5" stroke="none"/>
<circle cx="1172.7" cy="852.9" r="5.5" stroke="none"/>
<circle cx="1178.6" cy="854.0" r="5.5" stroke="none"/>
<circle cx="1184.5" cy="853.4" r="5.5" stroke="none"/>
<circle cx="1184.5" cy="853.4" r="5.5" stroke="none"/>
<circle cx="1190.0" cy="853.4" r="5.5" stroke="none"/>
<circle cx="1190.0" cy="853.4" r="5.5" stroke="none"/>
<circle cx="1195.9" cy="854.7" r="5.5" stroke="none"/>
<circle cx="1201.8" cy="855.5" r="5.5" stroke="none"/>
<circle cx="1207.7" cy="854.6" r="5.5" stroke="none"/>
<circle cx="1207.7" cy="854.6" r="5.5" stroke="none"/>
<circle cx="1213.6" cy="853.6" r="5.5" stroke="none"/>
<circle cx="1219.5" cy="852.3" r="5.5" stroke="none"/>
<circle cx="1219.5" cy="852.3" r="5.5" stroke="none"/>
<circle cx="1225.5" cy="853.6" r="5.5" stroke="none"/>
<circle cx="1231.4" cy="853.4" r="5.5" stroke="none"/>
<circle cx="1237.3" cy="853.4" r="5.5" stroke="none"/>
<circle cx="1237.3" cy="853.4" r="5.5" stroke="none"/>
<circle cx="1243.2" cy="853.3" r="5.5" stroke="none"/>
<circle cx="1249.1" cy="852.3" r="5.5" stroke="none"/>
<circle cx="1249.1" cy="852.3" r="5.5" stroke="none"/>
<circle cx="1255.0" cy="853.5" r="5.5" stroke="none"/>
<circle cx="1260.9" cy="852.3" r="5.5" stroke="none"/>
<circle cx="1260.9" cy="852.3" r="5.5" stroke="none"/>
<circle cx="1266.8" cy="853.1" r="5.5" stroke="none"/>
<circle cx="1272.7" cy="852.3" r="5.5" stroke="none"/>
<circle cx="1272.7" cy="852.3" r="5.5" stroke="none"/>
<circle cx="1278.6" cy="852.0" r="5.5" stroke="none"/>
<circle cx="1284.5" cy="849.9" r="5.5" stroke="none"/>
<circle cx="1284.5" cy="849.9" r="5.5" stroke="none"/>
<circle cx="1290.4" cy="851.1" r="5.5" stroke="none"/>
<circle cx="1296.4" cy="849.9" r="5.5" stroke="none"/>
<circle cx="1296.4" cy="849.9" r="5.5" stroke="none"/>
<circle cx="1302.3" cy="850.8" r="5.5" stroke="none"/>
<circle cx="1308.2" cy="848.7" r="5.5" stroke="none"/>
<circle cx="1308.2" cy="848.7" r="5.5" stroke="none"/>
<circle cx="1314.1" cy="848.2" r="5.5" stroke="none"/>
<circle cx="1320.0" cy="846.4" r="5.5" stroke="none"/>
<circle cx="1320.0" cy="846.4" r="5.5" stroke="none"/>
<circle cx="1325.9" cy="847.3" r="5.5" stroke="none"/>
<circle cx="1331.8" cy="846.4" r="5.5" stroke="none"/>
<circle cx="1331.8" cy="846.4" r="5.5" stroke="none"/>
<circle cx="1336.5" cy="846.0" r="5.5" stroke="none"/>
<circle cx="1341.3" cy="844.0" r="5.5" stroke="none"/>
<circle cx="1341.3" cy="844.0" r="5.5" stroke="none"/>
<circle cx="1348.3" cy="847.2" r="5.5" stroke="none"/>
<circle cx="1355.4" cy="848.7" r="5.5" stroke="none"/>
<circle cx="1355.4" cy="848.7" r="5.5" stroke="none"/>
<circle cx="1356.7" cy="849.9" r="5.5" stroke="none"/>
<circle cx="1356.7" cy="849.9" r="5.5" stroke="none"/>
<circle cx="1360.9" cy="851.0" r="5.5" stroke="none"/>
<circle cx="1365.0" cy="849.9" r="5.5" stroke="none"/>
<circle cx="1365.0" cy="849.9" r="5.5" stroke="none"/>
<circle cx="1370.9" cy="850.6" r="5.5" stroke="none"/>
<circle cx="1376.8" cy="849.9" r="5.5" stroke="none"/>
<circle cx="1376.8" cy="849.9" r="5.5" stroke="none"/>
<circle cx="1380.9" cy="849.6" r="5.5" stroke="none"/>
<circle cx="1385.1" cy="847.5" r="5.5" stroke="none"/>
<circle cx="1385.1" cy="847.5" r="5.5" stroke="none"/>
<circle cx="1389.8" cy="851.8" r="5.5" stroke="none"/>
<circle cx="1394.5" cy="854.6" r="5.5" stroke="none"/>
<circle cx="1394.5" cy="854.6" r="5.5" stroke="none"/>
<circle cx="1398.7" cy="853.2" r="5.5" stroke="none"/>
<circle cx="1402.8" cy="848.7" r="5.5" stroke="none"/>
<circle cx="1402.8" cy="848.7" r="5.5" stroke="none"/>
<circle cx="1407.5" cy="852.2" r="5.5" stroke="none"/>
<circle cx="1412.3" cy="853.4" r="5.5" stroke="none"/>
<circle cx="1412.3" cy="853.4" r="5.5" stroke="none"/>
<circle cx="1418.2" cy="854.3" r="5.5" stroke="none"/>
<circle cx="1424.1" cy="852.3" r="5.5" stroke="none"/>
<circle cx="1424.1" cy="852.3" r="5.5" stroke="none"/>
<circle cx="1431.2" cy="852.6" r="5.5" stroke="none"/>
<circle cx="1438.3" cy="849.9" r="5.5" stroke="none"/>
<circle cx="1438.3" cy="849.9" r="5.5" stroke="none"/>
<circle cx="1445.3" cy="850.3" r="5.5" stroke="none"/>
<circle cx="1452.4" cy="849.9" r="5.5" stroke="none"/>
<circle cx="1452.4" cy="849.9" r="5.5" stroke="none"/>
<circle cx="1457.2" cy="852.6" r="5.5" stroke="none"/>
<circle cx="1461.9" cy="853.4" r="5.5" stroke="none"/>
<circle cx="1461.9" cy="853.4" r="5.5" stroke="none"/>
<circle cx="1466.3" cy="852.9" r="5.5" stroke="none"/>
<circle cx="1470.8" cy="849.3" r="5.5" stroke="none"/>
<circle cx="1470.8" cy="849.3" r="5.5" stroke="none"/>
<circle cx="1475.2" cy="852.7" r="5.5" stroke="none"/>
<circle cx="1479.6" cy="853.4" r="5.5" stroke="none"/>
<circle cx="1479.6" cy="853.4" r="5.5" stroke="none"/>
<circle cx="1483.1" cy="856.0" r="5.5" stroke="none"/>
<circle cx="1486.6" cy="858.2" r="5.5" stroke="none"/>
<polygon points="981.4,1086.9 981.4,1062.8 981.9,1060.4 989.5,1058.1 995.5,1064.0 1007.3,1065.2 1019.1,1066.4 1030.9,1064.0 1054.5,1064.0 1078.2,1064.0 1090.0,1067.5 1093.5,1068.7 1101.8,1073.4 1110.1,1069.9 1117.2,1074.6 1127.8,1066.4 1134.9,1060.4 1142.0,1064.0 1151.4,1066.4 1160.9,1064.0 1172.7,1066.4 1179.8,1073.4 1190.0,1064.0 1197.1,1069.9 1205.4,1065.2 1216.0,1060.4 1224.3,1065.2 1231.4,1069.9 1239.6,1067.5 1249.1,1064.0 1260.9,1062.8 1272.7,1064.0 1284.5,1066.4 1296.4,1069.9 1308.2,1072.3 1320.0,1072.3 1328.3,1074.6 1342.4,1072.3 1349.5,1078.2 1355.4,1080.5 1364.3,1075.8 1370.8,1079.4 1377.3,1075.2 1383.8,1078.2 1389.7,1074.6 1396.8,1081.7 1403.9,1081.1 1409.8,1081.7 1415.7,1079.4 1422.2,1078.8 1430.0,1079.4 1437.1,1074.0 1447.7,1077.6 1460.1,1077.0 1472.5,1074.6 1479.6,1079.4 1486.7,1075.8 1486.7,1086.9" stroke="none"/>
<circle cx="982.4" cy="1062.8" r="5.5" stroke="none"/>
<circle cx="981.8" cy="1068.8" r="5.5" stroke="none"/>
<circle cx="982.0" cy="1074.8" r="5.5" stroke="none"/>
<circle cx="981.6" cy="1080.8" r="5.5" stroke="none"/>
<circle cx="981.8" cy="1086.8" r="5.5" stroke="none"/>
<circle cx="981.4" cy="1086.9" r="5.5" stroke="none"/>
<circle cx="1486.7" cy="1075.8" r="5.5" stroke="none"/>
<circle cx="1486.4" cy="1081.8" r="5.5" stroke="none"/>
<circle cx="1486.7" cy="1086.9" r="5.5" stroke="none"/>
<circle cx="981.4" cy="1086.9" r="5.5" stroke="none"/>
<circle cx="986.4" cy="1086.5" r="5.5" stroke="none"/>
<circle cx="991.4" cy="1086.6" r="5.5" stroke="none"/>
<circle cx="996.4" cy="1086.8" r="5.5" stroke="none"/>
<circle cx="1001.4" cy="1086.7" r="5.5" stroke="none"/>
<circle cx="1006.4" cy="1086.4" r="5.5" stroke="none"/>
<circle cx="1011.4" cy="1086.8" r="5.5" stroke="none"/>
<circle cx="1016.4" cy="1086.5" r="5.5" stroke="none"/>
<circle cx="1021.4" cy="1086.7" r="5.5" stroke="none"/>
<circle cx="1026.4" cy="1086.7" r="5.5" stroke="none"/>
<circle cx="1031.4" cy="1086.5" r="5.5" stroke="none"/>
<circle cx="1036.4" cy="1086.7" r="5.5" stroke="none"/>
<circle cx="1041.4" cy="1086.6" r="5.5" stroke="none"/>
<circle cx="1046.4" cy="1086.6" r="5.5" stroke="none"/>
<circle cx="1051.4" cy="1086.4" r="5.5" stroke="none"/>
<circle cx="1056.4" cy="1086.7" r="5.5" stroke="none"/>
<circle cx="1061.4" cy="1086.5" r="5.5" stroke="none"/>
<circle cx="1066.4" cy="1086.5" r="5.5" stroke="none"/>
<circle cx="1071.4" cy="1086.6" r="5.5" stroke="none"/>
<circle cx="1076.4" cy="1086.7" r="5.5" stroke="none"/>
<circle cx="1081.4" cy="1086.7" r="5.5" stroke="none"/>
<circle cx="1086.4" cy="1086.9" r="5.5" stroke="none"/>
<circle cx="1091.4" cy="1086.8" r="5.5" stroke="none"/>
<circle cx="1096.4" cy="1086.9" r="5.5" stroke="none"/>
<circle cx="1101.4" cy="1086.5" r="5.5" stroke="none"/>
<circle cx="1106.4" cy="1086.8" r="5.5" stroke="none"/>
<circle cx="1111.4" cy="1086.8" r="5.5" stroke="none"/>
<circle cx="1116.4" cy="1086.9" r="5.5" stroke="none"/>
<circle cx="1121.4" cy="1086.5" r="5.5" stroke="none"/>
<circle cx="1126.4" cy="1086.5" r="5.5" stroke="none"/>
<circle cx="1131.4" cy="1086.6" r="5.5" stroke="none"/>
<circle cx="1136.4" cy="1086.8" r="5.5" stroke="none"/>
<circle cx="1141.4" cy="1086.8" r="5.5" stroke="none"/>
<circle cx="1146.4" cy="1086.8" r="5.5" stroke="none"/>
<circle cx="1151.4" cy="1086.7" r="5.5" stroke="none"/>
<circle cx="1156.4" cy="1086.8" r="5.5" stroke="none"/>
<circle cx="1161.4" cy="1086.7" r="5.5" stroke="none"/>
<circle cx="1166.4" cy="1086.8" r="5.5" stroke="none"/>
<circle cx="1171.4" cy="1086.4" r="5.5" stroke="none"/>
<circle cx="1176.4" cy="1086.4" r="5.5" stroke="none"/>
<circle cx="1181.4" cy="1086.6" r="5.5" stroke="none"/>
<circle cx="1186.4" cy="1086.8" r="5.5" stroke="none"/>
<circle cx="1191.4" cy="1086.4" r="5.5" stroke="none"/>
<circle cx="1196.4" cy="1086.7" r="5.5" stroke="none"/>
<circle cx="1201.4" cy="1086.7" r="5.5" stroke="none"/>
<circle cx="1206.4" cy="1086.9" r="5.5" stroke="none"/>
<circle cx="1211.4" cy="1086.7" r="5.5" stroke="none"/>
<circle cx="1216.4" cy="1086.7" r="5.5" stroke="none"/>
<circle cx="1221.4" cy="1086.6" r="5.5" stroke="none"/>
<circle cx="1226.4" cy="1086.8" r="5.5" stroke="none"/>
<circle cx="1231.4" cy="1086.6" r="5.5" stroke="none"/>
<circle cx="1236.4" cy="1086.9" r="5.5" stroke="none"/>
<circle cx="1241.4" cy="1086.8" r="5.5" stroke="none"/>
<circle cx="1246.4" cy="1086.9" r="5.5" stroke="none"/>
<circle cx="1251.4" cy="1086.7" r="5.5" stroke="none"/>
<circle cx="1256.4" cy="1086.9" r="5.5" stroke="none"/>
<circle cx="1261.4" cy="1086.9" r="5.5" stroke="none"/>
<circle cx="1266.4" cy="1086.7" r="5.5" stroke="none"/>
<circle cx="1271.4" cy="1086.8" r="5.5" stroke="none"/>
<circle cx="1276.4" cy="1086.6" r="5.5" stroke="none"/>
<circle cx="1281.4" cy="1086.6" r="5.5" stroke="none"/>
<circle cx="1286.4" cy="1086.5" r="5.5" stroke="none"/>
<circle cx="1291.4" cy="1086.6" r="5.5" stroke="none"/>
<circle cx="1296.4" cy="1086.5" r="5.5" stroke="none"/>
<circle cx="1301.4" cy="1086.5" r="5.5" stroke="none"/>
<circle cx="1306.4" cy="1086.7" r="5.5" stroke="none"/>
<circle cx="1311.4" cy="1086.7" r="5.5" stroke="none"/>
<circle cx="1316.4" cy="1086.4" r="5.5" stroke="none"/>
<circle cx="1321.4" cy="1086.8" r="5.5" stroke="none"/>
<circle cx="1326.4" cy="1086.5" r="5.5" stroke="none"/>
<circle cx="1331.4" cy="1086.6" r="5.5" stroke="none"/>
<circle cx="1336.4" cy="1086.9" r="5.5" stroke="none"/>
<circle cx="1341.4" cy="1086.5" r="5.5" stroke="none"/>
<circle cx="1346.4" cy="1086.5" r="5.5" stroke="none"/>
<circle cx="1351.4" cy="1086.6" r="5.5" stroke="none"/>
<circle cx="1356.4" cy="1086.5" r="5.5" stroke="none"/>
<circle cx="1361.4" cy="1086.5" r="5.5" stroke="none"/>
<circle cx="1366.4" cy="1086.8" r="5.5" stroke="none"/>
<circle cx="1371.4" cy="1086.6" r="5.5" stroke="none"/>
<circle cx="1376.4" cy="1086.6" r="5.5" stroke="none"/>
<circle cx="1381.4" cy="1086.5" r="5.5" stroke="none"/>
<circle cx="1386.4" cy="1086.5" r="5.5" stroke="none"/>
<circle cx="1391.4" cy="1086.5" r="5.5" stroke="none"/>
<circle cx="1396.4" cy="1086.6" r="5.5" stroke="none"/>
<circle cx="1401.4" cy="1086.5" r="5.5" stroke="none"/>
<circle cx="1406.4" cy="1086.6" r="5.5" stroke="none"/>
<circle cx="1411.4" cy="1086.6" r="5.5" stroke="none"/>
<circle cx="1416.4" cy="1086.8" r="5.5" stroke="none"/>
<circle cx="1421.4" cy="1086.9" r="5.5" stroke="none"/>
<circle cx="1426.4" cy="1086.8" r="5.5" stroke="none"/>
<circle cx="1431.4" cy="1086.7" r="5.5" stroke="none"/>
<circle cx="1436.4" cy="1086.8" r="5.5" stroke="none"/>
<circle cx="1441.4" cy="1086.5" r="5.5" stroke="none"/>
<circle cx="1446.4" cy="1086.6" r="5.5" stroke="none"/>
<circle cx="1451.4" cy="1086.6" r="5.5" stroke="none"/>
<circle cx="1456.4" cy="1086.6" r="5.5" stroke="none"/>
<circle cx="1461.4" cy="1086.6" r="5.5" stroke="none"/>
<circle cx="1466.4" cy="1086.7" r="5.5" stroke="none"/>
<circle cx="1471.4" cy="1086.9" r="5.5" stroke="none"/>
<circle cx="1476.4" cy="1086.5" r="5.5" stroke="none"/>
<circle cx="1481.4" cy="1086.5" r="5.5" stroke="none"/>
<circle cx="1486.4" cy="1086.6" r="5.5" stroke="none"/>
<circle cx="981.4" cy="1062.8" r="5.5" stroke="none"/>
<circle cx="981.9" cy="1060.4" r="5.5" stroke="none"/>
<circle cx="981.9" cy="1060.4" r="5.5" stroke="none"/>
<circle cx="985.7" cy="1060.1" r="5.5" stroke="none"/>
<circle cx="989.5" cy="1058.1" r="5.5" stroke="none"/>
<circle cx="989.5" cy="1058.1" r="5.5" stroke="none"/>
<circle cx="992.5" cy="1062.1" r="5.5" stroke="none"/>
<circle cx="995.5" cy="1064.0" r="5.5" stroke="none"/>
<circle cx="995.5" cy="1064.0" r="5.5" stroke="none"/>
<circle cx="1001.4" cy="1064.7" r="5.5" stroke="none"/>
<circle cx="1007.3" cy="1065.2" r="5.5" stroke="none"/>
<circle cx="1007.3" cy="1065.2" r="5.5" stroke="none"/>
<circle cx="1013.2" cy="1066.9" r="5.5" stroke="none"/>
<circle cx="1019.1" cy="1066.4" r="5.5" stroke="none"/>
<circle cx="1019.1" cy="1066.4" r="5.5" stroke="none"/>
<circle cx="1025.0" cy="1065.6" r="5.5" stroke="none"/>
<circle cx="1030.9" cy="1064.0" r="5.5" stroke="none"/>
<circle cx="1030.9" cy="1064.0" r="5.5" stroke="none"/>
<circle cx="1036.8" cy="1064.1" r="5.5" stroke="none"/>
<circle cx="1042.7" cy="1064.4" r="5.5" stroke="none"/>
<circle cx="1048.6" cy="1065.2" r="5.5" stroke="none"/>
<circle cx="1054.5" cy="1064.0" r="5.5" stroke="none"/>
<circle cx="1054.5" cy="1064.0" r="5.5" stroke="none"/>
<circle cx="1060.4" cy="1064.3" r="5.5" stroke="none"/>
<circle cx="1066.4" cy="1065.2" r="5.5" stroke="none"/>
<circle cx="1072.3" cy="1065.5" r="5.5" stroke="none"/>
<circle cx="1078.2" cy="1064.0" r="5.5" stroke="none"/>
<circle cx="1078.2" cy="1064.0" r="5.5" stroke="none"/>
<circle cx="1084.1" cy="1066.6" r="5.5" stroke="none"/>
<circle cx="1090.0" cy="1067.5" r="5.5" stroke="none"/>
<circle cx="1090.0" cy="1067.5" r="5.5" stroke="none"/>
<circle cx="1093.5" cy="1068.7" r="5.5" stroke="none"/>
<circle cx="1093.5" cy="1068.7" r="5.5" stroke="none"/>
<circle cx="1097.7" cy="1071.7" r="5.5" stroke="none"/>
<circle cx="1101.8" cy="1073.4" r="5.5" stroke="none"/>
<circle cx="1101.8" cy="1073.4" r="5.5" stroke="none"/>
<circle cx="1105.9" cy="1072.4" r="5.5" stroke="none"/>
<circle cx="1110.1" cy="1069.9" r="5.5" stroke="none"/>
<circle cx="1110.1" cy="1069.9" r="5.5" stroke="none"/>
<circle cx="1113.6" cy="1073.4" r="5.5" stroke="none"/>
<circle cx="1117.2" cy="1074.6" r="5.5" stroke="none"/>
<circle cx="1117.2" cy="1074.6" r="5.5" stroke="none"/>
<circle cx="1122.5" cy="1071.7" r="5.5" stroke="none"/>
<circle cx="1127.8" cy="1066.4" r="5.5" stroke="none"/>
<circle cx="1127.8" cy="1066.4" r="5.5" stroke="none"/>
<circle cx="1131.3" cy="1064.4" r="5.5" stroke="none"/>
<circle cx="1134.9" cy="1060.4" r="5.5" stroke="none"/>
<circle cx="1134.9" cy="1060.4" r="5.5" stroke="none"/>
<circle cx="1138.4" cy="1063.2" r="5.5" stroke="none"/>
<circle cx="1142.0" cy="1064.0" r="5.5" stroke="none"/>
<circle cx="1142.0" cy="1064.0" r="5.5" stroke="none"/>
<circle cx="1146.7" cy="1065.3" r="5.5" stroke="none"/>
<circle cx="1151.4" cy="1066.4" r="5.5" stroke="none"/>
<circle cx="1151.4" cy="1066.4" r="5.5" stroke="none"/>
<circle cx="1156.2" cy="1065.4" r="5.5" stroke="none"/>
<circle cx="1160.9" cy="1064.0" r="5.5" stroke="none"/>
<circle cx="1160.9" cy="1064.0" r="5.5" stroke="none"/>
<circle cx="1166.8" cy="1065.6" r="5.5" stroke="none"/>
<circle cx="1172.7" cy="1066.4" r="5.5" stroke="none"/>
<circle cx="1172.7" cy="1066.4" r="5.5" stroke="none"/>
<circle cx="1176.2" cy="1071.1" r="5.5" stroke="none"/>
<circle cx="1179.8" cy="1073.4" r="5.5" stroke="none"/>
<circle cx="1179.8" cy="1073.4" r="5.5" stroke="none"/>
<circle cx="1184.9" cy="1069.2" r="5.5" stroke="none"/>
<circle cx="1190.0" cy="1064.0" r="5.5" stroke="none"/>
<circle cx="1190.0" cy="1064.0" r="5.5" stroke="none"/>
<circle cx="1193.5" cy="1067.9" r="5.5" stroke="none"/>
<circle cx="1197.1" cy="1069.9" r="5.5" stroke="none"/>
<circle cx="1197.1" cy="1069.9" r="5.5" stroke="none"/>
<circle cx="1201.2" cy="1067.6" r="5.5" stroke="none"/>
<circle cx="1205.4" cy="1065.2" r="5.5" stroke="none"/>
<circle cx="1205.4" cy="1065.2" r="5.5" stroke="none"/>
<circle cx="1210.7" cy="1062.9" r="5.5" stroke="none"/>
<circle cx="1216.0" cy="1060.4" r="5.5" stroke="none"/>
<circle cx="1216.0" cy="1060.4" r="5.5" stroke="none"/>
<circle cx="1220.1" cy="1063.2" r="5.5" stroke="none"/>
<circle cx="1224.3" cy="1065.2" r="5.5" stroke="none"/>
<circle cx="1224.3" cy="1065.2" r="5.5" stroke="none"/>
<circle cx="1227.8" cy="1068.6" r="5.5" stroke="none"/>
<circle cx="1231.4" cy="1069.9" r="5.5" stroke="none"/>
<circle cx="1231.4" cy="1069.9" r="5.5" stroke="none"/>
<circle cx="1235.5" cy="1069.8" r="5.5" stroke="none"/>
<circle cx="1239.6" cy="1067.5" r="5.5" stroke="none"/>
<circle cx="1239.6" cy="1067.5" r="5.5" stroke="none"/>
<circle cx="1244.4" cy="1066.8" r="5.5" stroke="none"/>
<circle cx="1249.1" cy="1064.0" r="5.5" stroke="none"/>
<circle cx="1249.1" cy="1064.0" r="5.5" stroke="none"/>
<circle cx="1255.0" cy="1063.9" r="5.5" stroke="none"/>
<circle cx="1260.9" cy="1062.8" r="5.5" stroke="none"/>
<circle cx="1260.9" cy="1062.8" r="5.5" stroke="none"/>
<circle cx="1266.8" cy="1064.2" r="5.5" stroke="none"/>
<circle cx="1272.7" cy="1064.0" r="5.5" stroke="none"/>
<circle cx="1272.7" cy="1064.0" r="5.5" stroke="none"/>
<circle cx="1278.6" cy="1065.9" r="5.5" stroke="none"/>
<circle cx="1284.5" cy="1066.4" r="5.5" stroke="none"/>
<circle cx="1284.5" cy="1066.4" r="5.5" stroke="none"/>
<circle cx="1290.4" cy="1068.9" r="5.5" stroke="none"/>
<circle cx="1296.4" cy="1069.9" r="5.5" stroke="none"/>
<circle cx="1296.4" cy="1069.9" r="5.5" stroke="none"/>
<circle cx="1302.3" cy="1071.3" r="5.5" stroke="none"/>
<circle cx="1308.2" cy="1072.3" r="5.5" stroke="none"/>
<circle cx="1308.2" cy="1072.3" r="5.5" stroke="none"/>
<circle cx="1314.1" cy="1073.7" r="5.5" stroke="none"/>
<circle cx="1320.0" cy="1072.3" r="5.5" stroke="none"/>
<circle cx="1320.0" cy="1072.3" r="5.5" stroke="none"/>
<circle cx="1324.1" cy="1073.8" r="5.5" stroke="none"/>
<circle cx="1328.3" cy="1074.6" r="5.5" stroke="none"/>
<circle cx="1328.3" cy="1074.6" r="5.5" stroke="none"/>
<circle cx="1335.3" cy="1075.0" r="5.5" stroke="none"/>
<circle cx="1342.4" cy="1072.3" r="5.5" stroke="none"/>
<circle cx="1342.4" cy="1072.3" r="5.5" stroke="none"/>
<circle cx="1346.0" cy="1076.7" r="5.5" stroke="none"/>
<circle cx="1349.5" cy="1078.2" r="5.5" stroke="none"/>
<circle cx="1349.5" cy="1078.2" r="5.5" stroke="none"/>
<circle cx="1355.4" cy="1080.5" r="5.5" stroke="none"/>
<circle cx="1355.4" cy="1080.5" r="5.5" stroke="none"/>
<circle cx="1359.9" cy="1078.2" r="5.5" stroke="none"/>
<circle cx="1364.3" cy="1075.8" r="5.5" stroke="none"/>
<circle cx="1364.3" cy="1075.8" r="5.5" stroke="none"/>
<circle cx="1370.8" cy="1079.4" r="5.5" stroke="none"/>
<circle cx="1370.8" cy="1079.4" r="5.5" stroke="none"/>
<circle cx="1374.0" cy="1078.0" r="5.5" stroke="none"/>
<circle cx="1377.3" cy="1075.2" r="5.5" stroke="none"/>
<circle cx="1377.3" cy="1075.2" r="5.5" stroke="none"/>
<circle cx="1383.8" cy="1078.2" r="5.5" stroke="none"/>
<circle cx="1383.8" cy="1078.2" r="5.5" stroke="none"/>
<circle cx="1389.7" cy="1074.6" r="5.5" stroke="none"/>
<circle cx="1389.7" cy="1074.6" r="5.5" stroke="none"/>
<circle cx="1393.2" cy="1079.5" r="5.5" stroke="none"/>
<circle cx="1396.8" cy="1081.7" r="5.5" stroke="none"/>
<circle cx="1396.8" cy="1081.7" r="5.5" stroke="none"/>
<circle cx="1403.9" cy="1081.1" r="5.5" stroke="none"/>
<circle cx="1403.9" cy="1081.1" r="5.5" stroke="none"/>
<circle cx="1409.8" cy="1081.7" r="5.5" stroke="none"/>
<circle cx="1409.8" cy="1081.7" r="5.5" stroke="none"/>
<circle cx="1415.7" cy="1079.4" r="5.5" stroke="none"/>
<circle cx="1415.7" cy="1079.4" r="5.5" stroke="none"/>
<circle cx="1422.2" cy="1078.8" r="5.5" stroke="none"/>
<circle cx="1422.2" cy="1078.8" r="5.5" stroke="none"/>
<circle cx="1426.1" cy="1080.6" r="5.5" stroke="none"/>
<circle cx="1430.0" cy="1079.4" r="5.5" stroke="none"/>
<circle cx="1430.0" cy="1079.4" r="5.5" stroke="none"/>
<circle cx="1433.5" cy="1077.4" r="5.5" stroke="none"/>
<circle cx="1437.1" cy="1074.0" r="5.5" stroke="none"/>
<circle cx="1437.1" cy="1074.0" r="5.5" stroke="none"/>
<circle cx="1442.4" cy="1076.2" r="5.5" stroke="none"/>
<circle cx="1447.7" cy="1077.6" r="5.5" stroke="none"/>
<circle cx="1447.7" cy="1077.6" r="5.5" stroke="none"/>
<circle cx="1453.9" cy="1077.6" r="5.5" stroke="none"/>
<circle cx="1460.1" cy="1077.0" r="5.5" stroke="none"/>
<circle cx="1460.1" cy="1077.0" r="5.5" stroke="none"/>
<circle cx="1466.3" cy="1077.3" r="5.5" stroke="none"/>
<circle cx="1472.5" cy="1074.6" r="5.5" stroke="none"/>
<circle cx="1472.5" cy="1074.6" r="5.5" stroke="none"/>
<circle cx="1476.1" cy="1077.3" r="5.5" stroke="none"/>
<circle cx="1479.6" cy="1079.4" r="5.5" stroke="none"/>
<circle cx="1479.6" cy="1079.4" r="5.5" stroke="none"/>
<circle cx="1483.2" cy="1078.5" r="5.5" stroke="none"/>
<circle cx="1486.7" cy="1075.8" r="5.5" stroke="none"/>
</g>
<g fill="#fff" stroke="#fff" stroke-width="11" stroke-linecap="round" stroke-linejoin="round">
<polygon points="1049.8,838.9 1049.6,839.7 1049.2,840.1 1048.8,840.1 1048.4,839.7 1048.2,838.9 1048.4,838.1 1048.8,837.7 1049.2,837.7 1049.6,838.1" stroke="none"/>
<polygon points="1071.0,839.1 1070.6,839.8 1070.1,840.2 1069.6,840.0 1069.4,839.4 1069.4,838.7 1069.8,838.0 1070.3,837.6 1070.8,837.8 1071.0,838.4" stroke="none"/>
<polygon points="1095.6,846.0 1094.9,846.2 1094.0,845.7 1093.3,844.9 1093.0,843.9 1093.4,843.2 1094.1,843.0 1095.0,843.5 1095.7,844.3 1096.0,845.3" stroke="none"/>
<polygon points="1120.0,848.7 1120.2,849.3 1119.8,850.1 1119.0,850.6 1118.2,850.7 1117.6,850.3 1117.4,849.7 1117.8,848.9 1118.6,848.4 1119.4,848.3" stroke="none"/>
<polygon points="1248.7,852.3 1248.1,852.5 1247.4,852.2 1246.9,851.6 1246.8,850.8 1247.1,850.3 1247.7,850.1 1248.4,850.4 1248.9,851.0 1249.0,851.8" stroke="none"/>
<polygon points="1314.1,846.6 1313.5,846.9 1312.7,846.7 1312.0,846.1 1311.7,845.3 1311.9,844.6 1312.5,844.3 1313.3,844.5 1314.0,845.1 1314.3,845.9" stroke="none"/>
<polygon points="1011.1,1070.8 1010.7,1071.3 1009.9,1071.5 1009.0,1071.3 1008.3,1070.8 1008.1,1070.2 1008.5,1069.7 1009.3,1069.5 1010.2,1069.7 1010.9,1070.2" stroke="none"/>
<polygon points="1021.3,1070.0 1021.3,1070.5 1021.0,1071.0 1020.4,1071.3 1019.7,1071.3 1019.3,1071.0 1019.3,1070.5 1019.6,1070.0 1020.2,1069.7 1020.9,1069.7" stroke="none"/>
<polygon points="1039.9,1077.0 1039.4,1077.3 1038.4,1077.2 1037.2,1076.9 1036.3,1076.3 1036.1,1075.8 1036.6,1075.5 1037.6,1075.6 1038.8,1075.9 1039.7,1076.5" stroke="none"/>
<polygon points="1059.1,1072.9 1059.3,1073.5 1059.0,1074.3 1058.4,1074.9 1057.6,1075.2 1057.1,1075.1 1056.9,1074.5 1057.2,1073.7 1057.8,1073.1 1058.6,1072.8" stroke="none"/>
<polygon points="1071.7,1076.8 1071.4,1077.2 1070.5,1077.6 1069.4,1077.7 1068.5,1077.5 1068.1,1077.2 1068.4,1076.8 1069.3,1076.4 1070.4,1076.3 1071.3,1076.5" stroke="none"/>
<polygon points="1264.6,1073.2 1263.7,1073.6 1262.7,1073.3 1261.9,1072.5 1261.7,1071.5 1262.0,1070.6 1262.9,1070.2 1263.9,1070.5 1264.7,1071.3 1264.9,1072.3" stroke="none"/>
<polygon points="1281.9,1072.4 1281.8,1073.4 1280.9,1074.3 1279.6,1074.7 1278.4,1074.5 1277.7,1073.8 1277.8,1072.8 1278.7,1071.9 1280.0,1071.5 1281.2,1071.7" stroke="none"/>
<polygon points="1295.3,1070.0 1295.3,1071.1 1294.3,1072.3 1292.8,1073.1 1291.3,1073.3 1290.3,1072.6 1290.3,1071.5 1291.3,1070.3 1292.8,1069.5 1294.3,1069.3" stroke="none"/>
</g>
<g fill="#000" stroke="#000" stroke-width="11" stroke-linecap="round" stroke-linejoin="round">
<circle cx="1159.7" cy="755.5" r="5.5" stroke="none"/>
<circle cx="1102.6" cy="781.4" r="5.5" stroke="none"/>
<circle cx="1121.4" cy="781.6" r="5.5" stroke="none"/>
<circle cx="1067.8" cy="809.7" r="5.5" stroke="none"/>
<circle cx="1172.7" cy="803.8" r="5.5" stroke="none"/>
<circle cx="1182.7" cy="784.3" r="5.5" stroke="none"/>
<circle cx="1040.9" cy="822.7" r="5.5" stroke="none"/>
<circle cx="1114.8" cy="834.5" r="5.5" stroke="none"/>
<circle cx="1122.5" cy="842.6" r="5.5" stroke="none"/>
<circle cx="1140.8" cy="841.6" r="5.5" stroke="none"/>
<circle cx="1185.1" cy="840.4" r="5.5" stroke="none"/>
<circle cx="1103.6" cy="831.6" r="5.5" stroke="none"/>
<circle cx="1095.3" cy="827.4" r="5.5" stroke="none"/>
<circle cx="1151.4" cy="773.7" r="5.5" stroke="none"/>
<circle cx="1155.8" cy="773.0" r="5.5" stroke="none"/>
<circle cx="1160.9" cy="773.7" r="5.5" stroke="none"/>
<circle cx="1165.3" cy="773.2" r="5.5" stroke="none"/>
<circle cx="1169.2" cy="774.3" r="5.5" stroke="none"/>
<circle cx="1174.5" cy="773.1" r="5.5" stroke="none"/>
<circle cx="1179.8" cy="772.5" r="5.5" stroke="none"/>
<circle cx="1184.3" cy="772.8" r="5.5" stroke="none"/>
<circle cx="1190.4" cy="773.1" r="5.5" stroke="none"/>
<circle cx="1194.4" cy="773.3" r="5.5" stroke="none"/>
<circle cx="1200.0" cy="773.7" r="5.5" stroke="none"/>
<circle cx="1116.0" cy="793.8" r="5.5" stroke="none"/>
<circle cx="1119.3" cy="793.3" r="5.5" stroke="none"/>
<circle cx="1124.3" cy="794.4" r="5.5" stroke="none"/>
<circle cx="1127.7" cy="793.2" r="5.5" stroke="none"/>
<circle cx="1131.3" cy="790.8" r="5.5" stroke="none"/>
<circle cx="1137.2" cy="789.7" r="5.5" stroke="none"/>
<circle cx="1144.3" cy="789.6" r="5.5" stroke="none"/>
<circle cx="1129.0" cy="796.7" r="5.5" stroke="none"/>
<circle cx="1135.7" cy="798.7" r="5.5" stroke="none"/>
<circle cx="1142.0" cy="799.1" r="5.5" stroke="none"/>
<circle cx="1131.3" cy="801.4" r="5.5" stroke="none"/>
<circle cx="1135.3" cy="804.2" r="5.5" stroke="none"/>
<circle cx="1139.0" cy="807.4" r="5.5" stroke="none"/>
<circle cx="1124.3" cy="808.5" r="5.5" stroke="none"/>
<circle cx="1124.3" cy="808.7" r="5.5" stroke="none"/>
<circle cx="1090.0" cy="802.0" r="5.5" stroke="none"/>
<circle cx="1093.5" cy="803.8" r="5.5" stroke="none"/>
<circle cx="1085.3" cy="809.1" r="5.5" stroke="none"/>
<circle cx="1082.6" cy="811.6" r="5.5" stroke="none"/>
<circle cx="1078.2" cy="815.6" r="5.5" stroke="none"/>
<circle cx="1024.4" cy="817.4" r="5.5" stroke="none"/>
<circle cx="1029.5" cy="816.4" r="5.5" stroke="none"/>
<circle cx="1033.3" cy="816.2" r="5.5" stroke="none"/>
<circle cx="1039.1" cy="815.2" r="5.5" stroke="none"/>
<circle cx="1046.3" cy="815.6" r="5.5" stroke="none"/>
<circle cx="1053.0" cy="817.1" r="5.5" stroke="none"/>
<circle cx="1060.4" cy="817.4" r="5.5" stroke="none"/>
<circle cx="1066.4" cy="817.8" r="5.5" stroke="none"/>
<circle cx="1073.4" cy="818.0" r="5.5" stroke="none"/>
<circle cx="1079.6" cy="816.0" r="5.5" stroke="none"/>
<circle cx="1085.3" cy="814.4" r="5.5" stroke="none"/>
<circle cx="1089.5" cy="814.2" r="5.5" stroke="none"/>
<circle cx="1093.5" cy="815.6" r="5.5" stroke="none"/>
<circle cx="1099.8" cy="816.0" r="5.5" stroke="none"/>
<circle cx="1107.7" cy="817.4" r="5.5" stroke="none"/>
<circle cx="1113.6" cy="820.4" r="5.5" stroke="none"/>
<circle cx="1118.3" cy="816.8" r="5.5" stroke="none"/>
<circle cx="1122.2" cy="819.0" r="5.5" stroke="none"/>
<circle cx="1125.4" cy="821.5" r="5.5" stroke="none"/>
<circle cx="990.1" cy="829.8" r="5.5" stroke="none"/>
<circle cx="994.2" cy="828.5" r="5.5" stroke="none"/>
<circle cx="999.0" cy="826.9" r="5.5" stroke="none"/>
<circle cx="1004.2" cy="826.2" r="5.5" stroke="none"/>
<circle cx="1009.6" cy="826.3" r="5.5" stroke="none"/>
<circle cx="1014.9" cy="827.2" r="5.5" stroke="none"/>
<circle cx="1019.1" cy="827.4" r="5.5" stroke="none"/>
<circle cx="1007.3" cy="833.4" r="5.5" stroke="none"/>
<circle cx="1010.9" cy="834.1" r="5.5" stroke="none"/>
<circle cx="1015.5" cy="834.5" r="5.5" stroke="none"/>
<circle cx="1041.5" cy="832.8" r="5.5" stroke="none"/>
<circle cx="1047.1" cy="833.4" r="5.5" stroke="none"/>
<circle cx="1053.0" cy="832.4" r="5.5" stroke="none"/>
<circle cx="1058.1" cy="832.8" r="5.5" stroke="none"/>
<circle cx="1066.4" cy="829.8" r="5.5" stroke="none"/>
<circle cx="1073.5" cy="826.8" r="5.5" stroke="none"/>
<circle cx="1078.8" cy="825.5" r="5.5" stroke="none"/>
<circle cx="1085.3" cy="822.7" r="5.5" stroke="none"/>
<circle cx="1068.7" cy="834.5" r="5.5" stroke="none"/>
<circle cx="1074.4" cy="834.9" r="5.5" stroke="none"/>
<circle cx="1080.5" cy="835.6" r="5.5" stroke="none"/>
<circle cx="1087.6" cy="835.7" r="5.5" stroke="none"/>
<circle cx="1095.3" cy="827.4" r="5.5" stroke="none"/>
<circle cx="1099.9" cy="829.6" r="5.5" stroke="none"/>
<circle cx="1103.6" cy="831.6" r="5.5" stroke="none"/>
<circle cx="1156.2" cy="805.6" r="5.5" stroke="none"/>
<circle cx="1159.2" cy="809.1" r="5.5" stroke="none"/>
<circle cx="1160.9" cy="813.3" r="5.5" stroke="none"/>
<circle cx="1185.7" cy="805.0" r="5.5" stroke="none"/>
<circle cx="1187.8" cy="809.9" r="5.5" stroke="none"/>
<circle cx="1189.2" cy="814.4" r="5.5" stroke="none"/>
<polygon points="1127.8,822.7 1136.1,818.6 1147.9,819.8 1159.7,817.4 1170.3,817.4 1179.8,816.8 1184.5,814.4 1179.8,822.7 1172.7,829.8 1168.0,834.5 1160.9,829.8 1149.1,829.8 1131.3,830.4 1127.8,828.6" stroke="none"/>
<circle cx="1127.8" cy="822.7" r="5.5" stroke="none"/>
<circle cx="1132.1" cy="820.6" r="5.5" stroke="none"/>
<circle cx="1136.1" cy="818.6" r="5.5" stroke="none"/>
<circle cx="1142.6" cy="820.0" r="5.5" stroke="none"/>
<circle cx="1147.9" cy="819.8" r="5.5" stroke="none"/>
<circle cx="1153.7" cy="818.9" r="5.5" stroke="none"/>
<circle cx="1159.7" cy="817.4" r="5.5" stroke="none"/>
<circle cx="1164.2" cy="817.8" r="5.5" stroke="none"/>
<circle cx="1170.3" cy="817.4" r="5.5" stroke="none"/>
<circle cx="1175.3" cy="818.0" r="5.5" stroke="none"/>
<circle cx="1179.8" cy="816.8" r="5.5" stroke="none"/>
<circle cx="1184.5" cy="814.4" r="5.5" stroke="none"/>
<circle cx="1182.7" cy="818.2" r="5.5" stroke="none"/>
<circle cx="1179.8" cy="822.7" r="5.5" stroke="none"/>
<circle cx="1176.0" cy="826.6" r="5.5" stroke="none"/>
<circle cx="1172.7" cy="829.8" r="5.5" stroke="none"/>
<circle cx="1168.0" cy="834.5" r="5.5" stroke="none"/>
<circle cx="1163.6" cy="832.1" r="5.5" stroke="none"/>
<circle cx="1160.9" cy="829.8" r="5.5" stroke="none"/>
<circle cx="1154.4" cy="829.1" r="5.5" stroke="none"/>
<circle cx="1149.1" cy="829.8" r="5.5" stroke="none"/>
<circle cx="1142.4" cy="830.5" r="5.5" stroke="none"/>
<circle cx="1136.6" cy="829.7" r="5.5" stroke="none"/>
<circle cx="1131.3" cy="830.4" r="5.5" stroke="none"/>
<circle cx="1127.8" cy="828.6" r="5.5" stroke="none"/>
<circle cx="1127.8" cy="822.7" r="5.5" stroke="none"/>
<circle cx="1197.8" cy="757.1" r="5.5" stroke="none"/>
<circle cx="1213.6" cy="757.7" r="5.5" stroke="none"/>
<circle cx="1217.2" cy="757.7" r="5.5" stroke="none"/>
<circle cx="1235.5" cy="756.3" r="5.5" stroke="none"/>
<circle cx="1254.2" cy="768.6" r="5.5" stroke="none"/>
<circle cx="1219.5" cy="771.9" r="5.5" stroke="none"/>
<circle cx="1228.4" cy="777.2" r="5.5" stroke="none"/>
<circle cx="1298.7" cy="764.6" r="5.5" stroke="none"/>
<circle cx="1307.6" cy="772.5" r="5.5" stroke="none"/>
<circle cx="1295.8" cy="776.9" r="5.5" stroke="none"/>
<circle cx="1304.4" cy="794.9" r="5.5" stroke="none"/>
<circle cx="1301.1" cy="799.1" r="5.5" stroke="none"/>
<circle cx="1296.9" cy="803.2" r="5.5" stroke="none"/>
<circle cx="1316.4" cy="804.6" r="5.5" stroke="none"/>
<circle cx="1317.0" cy="821.9" r="5.5" stroke="none"/>
<circle cx="1206.5" cy="804.2" r="5.5" stroke="none"/>
<circle cx="1216.2" cy="811.5" r="5.5" stroke="none"/>
<circle cx="1203.0" cy="815.6" r="5.5" stroke="none"/>
<circle cx="1190.0" cy="814.4" r="5.5" stroke="none"/>
<circle cx="1289.0" cy="828.0" r="5.5" stroke="none"/>
<circle cx="1266.2" cy="834.5" r="5.5" stroke="none"/>
<circle cx="1253.2" cy="836.3" r="5.5" stroke="none"/>
<circle cx="1212.5" cy="840.4" r="5.5" stroke="none"/>
<circle cx="1206.5" cy="842.8" r="5.5" stroke="none"/>
<circle cx="1380.5" cy="841.0" r="5.5" stroke="none"/>
<circle cx="1421.4" cy="841.4" r="5.5" stroke="none"/>
<circle cx="1341.8" cy="838.1" r="5.5" stroke="none"/>
<circle cx="1333.6" cy="841.6" r="5.5" stroke="none"/>
<circle cx="1305.8" cy="836.9" r="5.5" stroke="none"/>
<circle cx="1314.7" cy="837.5" r="5.5" stroke="none"/>
<circle cx="1321.2" cy="842.2" r="5.5" stroke="none"/>
<circle cx="1287.5" cy="842.8" r="5.5" stroke="none"/>
<circle cx="1190.0" cy="775.5" r="5.5" stroke="none"/>
<circle cx="1193.9" cy="775.5" r="5.5" stroke="none"/>
<circle cx="1198.3" cy="774.3" r="5.5" stroke="none"/>
<circle cx="1202.2" cy="774.5" r="5.5" stroke="none"/>
<circle cx="1207.7" cy="774.9" r="5.5" stroke="none"/>
<circle cx="1213.0" cy="794.9" r="5.5" stroke="none"/>
<circle cx="1217.6" cy="795.8" r="5.5" stroke="none"/>
<circle cx="1221.9" cy="795.3" r="5.5" stroke="none"/>
<circle cx="1227.8" cy="795.2" r="5.5" stroke="none"/>
<circle cx="1232.5" cy="793.8" r="5.5" stroke="none"/>
<circle cx="1236.9" cy="792.7" r="5.5" stroke="none"/>
<circle cx="1242.0" cy="792.0" r="5.5" stroke="none"/>
<circle cx="1246.5" cy="792.1" r="5.5" stroke="none"/>
<circle cx="1251.4" cy="790.8" r="5.5" stroke="none"/>
<circle cx="1233.7" cy="801.4" r="5.5" stroke="none"/>
<circle cx="1238.4" cy="801.4" r="5.5" stroke="none"/>
<circle cx="1241.4" cy="802.6" r="5.5" stroke="none"/>
<circle cx="1250.3" cy="813.3" r="5.5" stroke="none"/>
<circle cx="1256.2" cy="814.4" r="5.5" stroke="none"/>
<circle cx="1260.9" cy="814.0" r="5.5" stroke="none"/>
<circle cx="1266.8" cy="814.4" r="5.5" stroke="none"/>
<circle cx="1270.5" cy="815.0" r="5.5" stroke="none"/>
<circle cx="1275.1" cy="815.6" r="5.5" stroke="none"/>
<circle cx="1279.4" cy="815.2" r="5.5" stroke="none"/>
<circle cx="1283.4" cy="815.6" r="5.5" stroke="none"/>
<circle cx="1287.8" cy="815.2" r="5.5" stroke="none"/>
<circle cx="1294.0" cy="815.0" r="5.5" stroke="none"/>
<circle cx="1299.7" cy="815.2" r="5.5" stroke="none"/>
<circle cx="1305.8" cy="815.0" r="5.5" stroke="none"/>
<circle cx="1253.8" cy="820.4" r="5.5" stroke="none"/>
<circle cx="1260.5" cy="821.3" r="5.5" stroke="none"/>
<circle cx="1265.6" cy="821.5" r="5.5" stroke="none"/>
<circle cx="1270.8" cy="821.6" r="5.5" stroke="none"/>
<circle cx="1276.2" cy="820.3" r="5.5" stroke="none"/>
<circle cx="1281.0" cy="820.9" r="5.5" stroke="none"/>
<circle cx="1287.2" cy="820.9" r="5.5" stroke="none"/>
<circle cx="1292.7" cy="820.3" r="5.5" stroke="none"/>
<circle cx="1297.5" cy="819.2" r="5.5" stroke="none"/>
<circle cx="1270.4" cy="827.4" r="5.5" stroke="none"/>
<circle cx="1268.1" cy="830.8" r="5.5" stroke="none"/>
<circle cx="1266.2" cy="834.5" r="5.5" stroke="none"/>
<circle cx="1193.5" cy="828.6" r="5.5" stroke="none"/>
<circle cx="1198.3" cy="825.1" r="5.5" stroke="none"/>
<circle cx="1200.5" cy="827.7" r="5.5" stroke="none"/>
<circle cx="1204.2" cy="829.8" r="5.5" stroke="none"/>
<circle cx="1208.1" cy="826.7" r="5.5" stroke="none"/>
<circle cx="1213.6" cy="825.1" r="5.5" stroke="none"/>
<circle cx="1219.0" cy="824.5" r="5.5" stroke="none"/>
<circle cx="1225.5" cy="825.1" r="5.5" stroke="none"/>
<circle cx="1226.6" cy="831.0" r="5.5" stroke="none"/>
<circle cx="1231.7" cy="827.8" r="5.5" stroke="none"/>
<circle cx="1237.3" cy="826.3" r="5.5" stroke="none"/>
<circle cx="1240.8" cy="831.0" r="5.5" stroke="none"/>
<circle cx="1244.0" cy="828.0" r="5.5" stroke="none"/>
<circle cx="1249.1" cy="826.3" r="5.5" stroke="none"/>
<circle cx="1253.8" cy="822.7" r="5.5" stroke="none"/>
<circle cx="1223.1" cy="848.7" r="5.5" stroke="none"/>
<circle cx="1227.1" cy="849.1" r="5.5" stroke="none"/>
<circle cx="1232.5" cy="849.9" r="5.5" stroke="none"/>
<circle cx="1240.8" cy="848.7" r="5.5" stroke="none"/>
<circle cx="1243.5" cy="847.0" r="5.5" stroke="none"/>
<circle cx="1247.9" cy="844.0" r="5.5" stroke="none"/>
<circle cx="1317.1" cy="821.9" r="5.5" stroke="none"/>
<circle cx="1341.9" cy="838.1" r="5.5" stroke="none"/>
<circle cx="1333.7" cy="841.6" r="5.5" stroke="none"/>
<circle cx="1305.9" cy="836.9" r="5.5" stroke="none"/>
<circle cx="1314.8" cy="837.5" r="5.5" stroke="none"/>
<circle cx="1321.3" cy="842.2" r="5.5" stroke="none"/>
<circle cx="1266.8" cy="730.4" r="5.5" stroke="none"/>
<circle cx="1270.6" cy="738.7" r="5.5" stroke="none"/>
<circle cx="1276.7" cy="744.0" r="5.5" stroke="none"/>
<circle cx="1304.4" cy="729.2" r="5.5" stroke="none"/>
<circle cx="1303.7" cy="731.9" r="5.5" stroke="none"/>
<circle cx="1316.6" cy="737.7" r="5.5" stroke="none"/>
<circle cx="1159.8" cy="912.2" r="5.5" stroke="none"/>
<circle cx="1198.2" cy="912.2" r="5.5" stroke="none"/>
<circle cx="1213.5" cy="912.2" r="5.5" stroke="none"/>
<circle cx="1217.7" cy="912.2" r="5.5" stroke="none"/>
<circle cx="1271.1" cy="920.8" r="5.5" stroke="none"/>
<circle cx="1304.5" cy="920.8" r="5.5" stroke="none"/>
<circle cx="1228.3" cy="937.2" r="5.5" stroke="none"/>
<circle cx="1299.0" cy="943.1" r="5.5" stroke="none"/>
<circle cx="1151.5" cy="931.9" r="5.5" stroke="none"/>
<circle cx="1155.6" cy="930.5" r="5.5" stroke="none"/>
<circle cx="1158.5" cy="931.0" r="5.5" stroke="none"/>
<circle cx="1162.7" cy="931.7" r="5.5" stroke="none"/>
<circle cx="1165.8" cy="931.8" r="5.5" stroke="none"/>
<circle cx="1170.4" cy="932.9" r="5.5" stroke="none"/>
<circle cx="1174.1" cy="932.6" r="5.5" stroke="none"/>
<circle cx="1179.3" cy="931.7" r="5.5" stroke="none"/>
<circle cx="1184.5" cy="932.4" r="5.5" stroke="none"/>
<circle cx="1188.1" cy="932.1" r="5.5" stroke="none"/>
<circle cx="1193.7" cy="931.0" r="5.5" stroke="none"/>
<circle cx="1198.9" cy="932.5" r="5.5" stroke="none"/>
<circle cx="1202.4" cy="932.5" r="5.5" stroke="none"/>
<circle cx="1207.6" cy="931.7" r="5.5" stroke="none"/>
<circle cx="1102.4" cy="961.2" r="5.5" stroke="none"/>
<circle cx="1121.3" cy="963.0" r="5.5" stroke="none"/>
<circle cx="1172.7" cy="985.4" r="5.5" stroke="none"/>
<circle cx="1186.3" cy="985.8" r="5.5" stroke="none"/>
<circle cx="1124.3" cy="1010.8" r="5.5" stroke="none"/>
<circle cx="1138.8" cy="1020.5" r="5.5" stroke="none"/>
<circle cx="1156.2" cy="1020.5" r="5.5" stroke="none"/>
<circle cx="1180.0" cy="1025.0" r="5.5" stroke="none"/>
<circle cx="1194.0" cy="1033.9" r="5.5" stroke="none"/>
<circle cx="1200.0" cy="1023.2" r="5.5" stroke="none"/>
<circle cx="1114.4" cy="1037.2" r="5.5" stroke="none"/>
<circle cx="1102.4" cy="1056.3" r="5.5" stroke="none"/>
<circle cx="1122.1" cy="1055.5" r="5.5" stroke="none"/>
<circle cx="1084.7" cy="1057.5" r="5.5" stroke="none"/>
<circle cx="1109.5" cy="1067.5" r="5.5" stroke="none"/>
<circle cx="1169.2" cy="1041.5" r="5.5" stroke="none"/>
<circle cx="1116.0" cy="976.0" r="5.5" stroke="none"/>
<circle cx="1123.1" cy="978.3" r="5.5" stroke="none"/>
<circle cx="1127.0" cy="978.0" r="5.5" stroke="none"/>
<circle cx="1131.3" cy="977.7" r="5.5" stroke="none"/>
<circle cx="1136.4" cy="976.3" r="5.5" stroke="none"/>
<circle cx="1139.6" cy="973.6" r="5.5" stroke="none"/>
<circle cx="1145.5" cy="973.6" r="5.5" stroke="none"/>
<circle cx="1127.8" cy="987.8" r="5.5" stroke="none"/>
<circle cx="1131.9" cy="989.5" r="5.5" stroke="none"/>
<circle cx="1136.3" cy="987.6" r="5.5" stroke="none"/>
<circle cx="1142.0" cy="986.0" r="5.5" stroke="none"/>
<circle cx="1131.3" cy="982.5" r="5.5" stroke="none"/>
<circle cx="1136.7" cy="981.0" r="5.5" stroke="none"/>
<circle cx="1142.0" cy="980.1" r="5.5" stroke="none"/>
<circle cx="1091.2" cy="1022.0" r="5.5" stroke="none"/>
<circle cx="1094.7" cy="1021.4" r="5.5" stroke="none"/>
<circle cx="1102.4" cy="1023.8" r="5.5" stroke="none"/>
<circle cx="1107.7" cy="1020.9" r="5.5" stroke="none"/>
<circle cx="1113.6" cy="1019.1" r="5.5" stroke="none"/>
<circle cx="1120.1" cy="1022.0" r="5.5" stroke="none"/>
<circle cx="1127.2" cy="1043.9" r="5.5" stroke="none"/>
<circle cx="1132.5" cy="1039.8" r="5.5" stroke="none"/>
<circle cx="1135.5" cy="1038.0" r="5.5" stroke="none"/>
<circle cx="1139.6" cy="1036.8" r="5.5" stroke="none"/>
<circle cx="1146.7" cy="1035.0" r="5.5" stroke="none"/>
<circle cx="1153.8" cy="1033.9" r="5.5" stroke="none"/>
<circle cx="1160.9" cy="1035.6" r="5.5" stroke="none"/>
<circle cx="1166.8" cy="1038.0" r="5.5" stroke="none"/>
<circle cx="1171.5" cy="1035.6" r="5.5" stroke="none"/>
<circle cx="1024.4" cy="1046.3" r="5.5" stroke="none"/>
<circle cx="1029.2" cy="1045.1" r="5.5" stroke="none"/>
<circle cx="1033.3" cy="1045.7" r="5.5" stroke="none"/>
<circle cx="1037.2" cy="1045.3" r="5.5" stroke="none"/>
<circle cx="1040.9" cy="1045.1" r="5.5" stroke="none"/>
<circle cx="1044.5" cy="1045.1" r="5.5" stroke="none"/>
<circle cx="1049.8" cy="1045.7" r="5.5" stroke="none"/>
<circle cx="1055.3" cy="1046.0" r="5.5" stroke="none"/>
<circle cx="1060.4" cy="1046.3" r="5.5" stroke="none"/>
<circle cx="1065.0" cy="1046.8" r="5.5" stroke="none"/>
<circle cx="1071.1" cy="1045.7" r="5.5" stroke="none"/>
<circle cx="1076.3" cy="1046.8" r="5.5" stroke="none"/>
<circle cx="1080.5" cy="1046.3" r="5.5" stroke="none"/>
<circle cx="989.5" cy="1053.4" r="5.5" stroke="none"/>
<circle cx="993.6" cy="1052.3" r="5.5" stroke="none"/>
<circle cx="999.0" cy="1052.2" r="5.5" stroke="none"/>
<circle cx="1003.5" cy="1052.7" r="5.5" stroke="none"/>
<circle cx="1009.6" cy="1052.2" r="5.5" stroke="none"/>
<circle cx="1015.1" cy="1052.1" r="5.5" stroke="none"/>
<circle cx="1021.4" cy="1053.4" r="5.5" stroke="none"/>
<circle cx="1026.2" cy="1056.9" r="5.5" stroke="none"/>
<circle cx="1031.9" cy="1058.8" r="5.5" stroke="none"/>
<circle cx="1038.0" cy="1059.3" r="5.5" stroke="none"/>
<circle cx="1044.5" cy="1058.8" r="5.5" stroke="none"/>
<circle cx="1049.8" cy="1059.3" r="5.5" stroke="none"/>
<circle cx="1054.5" cy="1059.4" r="5.5" stroke="none"/>
<circle cx="1060.4" cy="1058.1" r="5.5" stroke="none"/>
<circle cx="1066.4" cy="1052.2" r="5.5" stroke="none"/>
<circle cx="1066.4" cy="1058.1" r="5.5" stroke="none"/>
<circle cx="1182.2" cy="1059.3" r="5.5" stroke="none"/>
<circle cx="1185.8" cy="1061.4" r="5.5" stroke="none"/>
<circle cx="1189.2" cy="1062.8" r="5.5" stroke="none"/>
<circle cx="1235.5" cy="967.1" r="5.5" stroke="none"/>
<circle cx="1254.4" cy="961.8" r="5.5" stroke="none"/>
<circle cx="1267.4" cy="963.0" r="5.5" stroke="none"/>
<circle cx="1276.9" cy="970.9" r="5.5" stroke="none"/>
<circle cx="1307.6" cy="960.6" r="5.5" stroke="none"/>
<circle cx="1286.9" cy="987.8" r="5.5" stroke="none"/>
<circle cx="1206.5" cy="985.8" r="5.5" stroke="none"/>
<circle cx="1219.8" cy="999.4" r="5.5" stroke="none"/>
<circle cx="1316.4" cy="1012.3" r="5.5" stroke="none"/>
<circle cx="1316.7" cy="1033.5" r="5.5" stroke="none"/>
<circle cx="1203.0" cy="1023.0" r="5.5" stroke="none"/>
<circle cx="1216.2" cy="1023.8" r="5.5" stroke="none"/>
<circle cx="1204.4" cy="1033.9" r="5.5" stroke="none"/>
<circle cx="1236.3" cy="1034.4" r="5.5" stroke="none"/>
<circle cx="1317.0" cy="1062.6" r="5.5" stroke="none"/>
<circle cx="1328.5" cy="1060.8" r="5.5" stroke="none"/>
<circle cx="1342.2" cy="1071.1" r="5.5" stroke="none"/>
<circle cx="1281.6" cy="1055.7" r="5.5" stroke="none"/>
<circle cx="1213.0" cy="977.4" r="5.5" stroke="none"/>
<circle cx="1216.7" cy="976.6" r="5.5" stroke="none"/>
<circle cx="1221.9" cy="977.5" r="5.5" stroke="none"/>
<circle cx="1226.4" cy="977.5" r="5.5" stroke="none"/>
<circle cx="1230.2" cy="977.7" r="5.5" stroke="none"/>
<circle cx="1234.7" cy="977.0" r="5.5" stroke="none"/>
<circle cx="1240.8" cy="974.8" r="5.5" stroke="none"/>
<circle cx="1246.4" cy="977.7" r="5.5" stroke="none"/>
<circle cx="1251.4" cy="979.5" r="5.5" stroke="none"/>
<circle cx="1233.1" cy="981.9" r="5.5" stroke="none"/>
<circle cx="1236.2" cy="983.7" r="5.5" stroke="none"/>
<circle cx="1240.8" cy="984.2" r="5.5" stroke="none"/>
<circle cx="1221.3" cy="1033.9" r="5.5" stroke="none"/>
<circle cx="1225.5" cy="1033.9" r="5.5" stroke="none"/>
<circle cx="1221.9" cy="1043.3" r="5.5" stroke="none"/>
<circle cx="1227.2" cy="1044.5" r="5.5" stroke="none"/>
<circle cx="1255.0" cy="1035.0" r="5.5" stroke="none"/>
<circle cx="1260.9" cy="1038.0" r="5.5" stroke="none"/>
<circle cx="1266.8" cy="1034.4" r="5.5" stroke="none"/>
<circle cx="1272.5" cy="1035.1" r="5.5" stroke="none"/>
<circle cx="1279.8" cy="1034.4" r="5.5" stroke="none"/>
<circle cx="1283.9" cy="1031.2" r="5.5" stroke="none"/>
<circle cx="1288.1" cy="1028.5" r="5.5" stroke="none"/>
<circle cx="1292.8" cy="1026.8" r="5.5" stroke="none"/>
<circle cx="1288.1" cy="1035.6" r="5.5" stroke="none"/>
<circle cx="1291.7" cy="1039.6" r="5.5" stroke="none"/>
<circle cx="1295.2" cy="1042.1" r="5.5" stroke="none"/>
<circle cx="1301.7" cy="1042.1" r="5.5" stroke="none"/>
<circle cx="1243.2" cy="1056.9" r="5.5" stroke="none"/>
<circle cx="1246.3" cy="1053.3" r="5.5" stroke="none"/>
<circle cx="1250.3" cy="1051.0" r="5.5" stroke="none"/>
<circle cx="1255.0" cy="1052.2" r="5.5" stroke="none"/>
<circle cx="1265.6" cy="1049.8" r="5.5" stroke="none"/>
<circle cx="1270.4" cy="1053.4" r="5.5" stroke="none"/>
<circle cx="1303.4" cy="1053.4" r="5.5" stroke="none"/>
<circle cx="1298.8" cy="1056.4" r="5.5" stroke="none"/>
<circle cx="1293.3" cy="1059.8" r="5.5" stroke="none"/>
<circle cx="1289.3" cy="1064.0" r="5.5" stroke="none"/>
<circle cx="1305.8" cy="1058.1" r="5.5" stroke="none"/>
<circle cx="1305.0" cy="1061.7" r="5.5" stroke="none"/>
<circle cx="1305.8" cy="1066.4" r="5.5" stroke="none"/>
<circle cx="1214.8" cy="1059.3" r="5.5" stroke="none"/>
<circle cx="1209.8" cy="1061.3" r="5.5" stroke="none"/>
<circle cx="1205.4" cy="1064.0" r="5.5" stroke="none"/>
</g>
<g fill="#E03022" stroke="#E03022" stroke-width="11" stroke-linecap="round" stroke-linejoin="round">
<circle cx="1254.7" cy="731.5" r="5.5" stroke="none"/>
<circle cx="1258.5" cy="724.3" r="5.5" stroke="none"/>
<circle cx="1264.5" cy="725.1" r="5.5" stroke="none"/>
<circle cx="1269.9" cy="726.2" r="5.5" stroke="none"/>
<circle cx="1275.9" cy="724.7" r="5.5" stroke="none"/>
</g>
<g fill="#000" stroke="#000" stroke-width="11" stroke-linecap="round" stroke-linejoin="round">
<circle cx="1279.0" cy="725.4" r="5.5" stroke="none"/>
</g>
<g fill="#E03022" stroke="#E03022" stroke-width="11" stroke-linecap="round" stroke-linejoin="round">
<circle cx="1282.8" cy="726.2" r="5.5" stroke="none"/>
</g>
<g fill="#000" stroke="#000" stroke-width="11" stroke-linecap="round" stroke-linejoin="round">
<circle cx="1286.9" cy="727.7" r="5.5" stroke="none"/>
</g>
<g fill="#E03022" stroke="#E03022" stroke-width="11" stroke-linecap="round" stroke-linejoin="round">
<circle cx="1291.9" cy="727.0" r="5.5" stroke="none"/>
<circle cx="1296.4" cy="724.3" r="5.5" stroke="none"/>
</g>
<g fill="#E03022" stroke="#E03022" stroke-width="11" stroke-linecap="round" stroke-linejoin="round">
<polyline points="1254.9,901.0 1273.8,901.0" fill="none"/>
</g>
<g fill="#000" stroke="#000" stroke-width="11" stroke-linecap="round" stroke-linejoin="round">
<circle cx="1278.5" cy="901.3" r="5.5" stroke="none"/>
</g>
<g fill="#E03022" stroke="#E03022" stroke-width="11" stroke-linecap="round" stroke-linejoin="round">
<polyline points="1284.4,898.6 1296.2,898.6" fill="none"/>
</g>
<rect x="955.50" y="668.40" width="556.60" height="208.00" fill="none" stroke="#202020" stroke-width="1.12"/>
<rect x="1512.10" y="668.40" width="41.40" height="208.00" fill="#D9D9D9" stroke="#202020" stroke-width="1.12"/>
<text font-size="25.8" text-anchor="middle" transform="translate(1524.70 772.60) rotate(90) scale(0.97 1)" style="stroke-width:0.3px">LC GWAS</text>
<rect x="955.50" y="889.40" width="556.60" height="208.05" fill="none" stroke="#202020" stroke-width="1.12"/>
<rect x="1512.10" y="889.40" width="41.40" height="208.05" fill="#D9D9D9" stroke="#202020" stroke-width="1.12"/>
<text font-size="25.8" text-anchor="middle" transform="translate(1524.70 993.62) rotate(90) scale(0.97 1)" style="stroke-width:0.3px">RBMS1 eQTL</text>
<line x1="946.50" y1="733.50" x2="955.50" y2="733.50" stroke="#202020" stroke-width="1.1"/>
<text font-size="26" text-anchor="end" transform="translate(935.20 742.40) scale(0.965 1)">20</text>
<line x1="946.50" y1="800.30" x2="955.50" y2="800.30" stroke="#202020" stroke-width="1.1"/>
<text font-size="26" text-anchor="end" transform="translate(935.20 809.20) scale(0.965 1)">10</text>
<line x1="946.50" y1="866.10" x2="955.50" y2="866.10" stroke="#202020" stroke-width="1.1"/>
<text font-size="26" text-anchor="end" transform="translate(935.20 875.00) scale(0.965 1)">0</text>
<line x1="946.50" y1="954.20" x2="955.50" y2="954.20" stroke="#202020" stroke-width="1.1"/>
<text font-size="26" text-anchor="end" transform="translate(935.20 963.10) scale(0.965 1)">20</text>
<line x1="946.50" y1="1021.20" x2="955.50" y2="1021.20" stroke="#202020" stroke-width="1.1"/>
<text font-size="26" text-anchor="end" transform="translate(935.20 1030.10) scale(0.965 1)">10</text>
<line x1="946.50" y1="1087.70" x2="955.50" y2="1087.70" stroke="#202020" stroke-width="1.1"/>
<text font-size="26" text-anchor="end" transform="translate(935.20 1096.60) scale(0.965 1)">0</text>
<line x1="1065.20" y1="1097.45" x2="1065.20" y2="1106.85" stroke="#202020" stroke-width="1.1"/>
<text font-size="25.9" text-anchor="middle" transform="translate(1065.20 1136.20) scale(0.96 1)">160,200,000</text>
<line x1="1233.60" y1="1097.45" x2="1233.60" y2="1106.85" stroke="#202020" stroke-width="1.1"/>
<text font-size="25.9" text-anchor="middle" transform="translate(1233.60 1136.20) scale(0.96 1)">160,400,000</text>
<line x1="1402.30" y1="1097.45" x2="1402.30" y2="1106.85" stroke="#202020" stroke-width="1.1"/>
<text font-size="25.9" text-anchor="middle" transform="translate(1402.30 1136.20) scale(0.96 1)">160,600,000</text>
<text font-size="26" text-anchor="middle" transform="translate(1233.40 1173.20) scale(0.962 1)">Chromosome 2 position</text>
<text font-size="25.6" transform="translate(962.60 924.90) scale(0.98 1)">PP4 = 0.98</text>
<text font-size="25.8" text-anchor="middle" transform="translate(884.60 883.60) rotate(-90) scale(0.975 1)" style="stroke-width:0.2px">–log<tspan dy="8" font-size="16.5">10</tspan><tspan dy="-8" dx="1.3">(</tspan><tspan font-style="italic" dx="1.2">P</tspan><tspan dx="-2.5"> value)</tspan></text>
<text font-size="30" transform="translate(866.50 676.30) scale(0.86 1)" font-weight="bold" style="stroke-width:0.1px">c</text>
</g>
<g id="panel-d">
<circle cx="1729.90" cy="687.50" r="5.5" fill="#000"/>
<circle cx="1764.80" cy="731.70" r="5.5" fill="#000"/>
<circle cx="1869.70" cy="783.90" r="5.5" fill="#000"/>
<circle cx="1905.90" cy="858.50" r="5.5" fill="#000"/>
<circle cx="1770.60" cy="873.80" r="5.5" fill="#000"/>
<circle cx="1821.00" cy="921.00" r="5.5" fill="#000"/>
<circle cx="1869.23" cy="1068.33" r="5.5" fill="#000"/>
<circle cx="1894.21" cy="1066.08" r="5.5" fill="#000"/>
<circle cx="1923.93" cy="1057.59" r="5.5" fill="#000"/>
<circle cx="2030.08" cy="1062.34" r="5.5" fill="#000"/>
<circle cx="2064.80" cy="1061.59" r="5.5" fill="#000"/>
<circle cx="2068.30" cy="1063.33" r="5.5" fill="#000"/>
<circle cx="2100.02" cy="1077.57" r="5.5" fill="#000"/>
<circle cx="1789.33" cy="980.90" r="5.5" fill="#000"/>
<circle cx="1819.33" cy="981.14" r="5.5" fill="#000"/>
<circle cx="1840.71" cy="988.35" r="5.5" fill="#000"/>
<circle cx="1791.10" cy="995.43" r="5.5" fill="#000"/>
<circle cx="1801.73" cy="995.43" r="5.5" fill="#000"/>
<circle cx="1810.71" cy="1002.75" r="5.5" fill="#000"/>
<circle cx="1800.79" cy="1011.97" r="5.5" fill="#000"/>
<circle cx="1795.47" cy="1013.97" r="5.5" fill="#000"/>
<circle cx="1830.67" cy="1013.74" r="5.5" fill="#000"/>
<circle cx="1781.42" cy="1020.59" r="5.5" fill="#000"/>
<circle cx="1796.06" cy="1022.60" r="5.5" fill="#000"/>
<circle cx="1784.25" cy="1036.77" r="5.5" fill="#000"/>
<circle cx="1805.39" cy="1035.23" r="5.5" fill="#000"/>
<circle cx="1819.92" cy="1045.04" r="5.5" fill="#000"/>
<circle cx="1841.41" cy="1048.93" r="5.5" fill="#000"/>
<circle cx="1825.59" cy="1053.30" r="5.5" fill="#000"/>
<circle cx="1785.43" cy="1050.94" r="5.5" fill="#000"/>
<circle cx="1790.16" cy="1050.35" r="5.5" fill="#000"/>
<circle cx="1797.24" cy="1048.58" r="5.5" fill="#000"/>
<circle cx="1807.28" cy="1050.94" r="5.5" fill="#000"/>
<circle cx="1781.89" cy="1054.48" r="5.5" fill="#000"/>
<circle cx="1779.53" cy="1059.21" r="5.5" fill="#000"/>
<circle cx="1814.96" cy="1056.85" r="5.5" fill="#000"/>
<circle cx="1775.39" cy="1070.43" r="5.5" fill="#000"/>
<circle cx="1779.53" cy="1072.20" r="5.5" fill="#000"/>
<circle cx="1785.43" cy="1075.15" r="5.5" fill="#000"/>
<circle cx="1789.57" cy="1075.74" r="5.5" fill="#000"/>
<circle cx="1797.24" cy="1073.97" r="5.5" fill="#000"/>
<circle cx="1804.33" cy="1073.97" r="5.5" fill="#000"/>
<circle cx="1816.14" cy="1068.66" r="5.5" fill="#000"/>
<circle cx="1824.41" cy="1068.07" r="5.5" fill="#000"/>
<circle cx="1828.54" cy="1067.48" r="5.5" fill="#000"/>
<circle cx="1834.45" cy="1063.93" r="5.5" fill="#000"/>
<circle cx="1832.67" cy="1061.57" r="5.5" fill="#000"/>
<circle cx="1785.43" cy="1060.39" r="5.5" fill="#000"/>
<circle cx="1791.34" cy="1060.39" r="5.5" fill="#000"/>
<circle cx="1797.24" cy="1060.39" r="5.5" fill="#000"/>
<circle cx="1803.15" cy="1060.39" r="5.5" fill="#000"/>
<circle cx="1809.05" cy="1060.39" r="5.5" fill="#000"/>
<circle cx="1785.43" cy="1066.30" r="5.5" fill="#000"/>
<circle cx="1791.34" cy="1066.30" r="5.5" fill="#000"/>
<circle cx="1797.24" cy="1066.30" r="5.5" fill="#000"/>
<circle cx="1803.15" cy="1066.30" r="5.5" fill="#000"/>
<circle cx="1809.05" cy="1066.30" r="5.5" fill="#000"/>
<circle cx="1791.34" cy="1054.48" r="5.5" fill="#000"/>
<circle cx="1797.24" cy="1054.48" r="5.5" fill="#000"/>
<circle cx="1803.15" cy="1054.48" r="5.5" fill="#000"/>
<circle cx="1811.41" cy="1062.75" r="5.5" fill="#000"/>
<circle cx="1785.43" cy="1069.84" r="5.5" fill="#000"/>
<circle cx="1792.52" cy="1071.02" r="5.5" fill="#000"/>
<circle cx="1799.60" cy="1069.84" r="5.5" fill="#000"/>
<rect x="1711.50" y="668.40" width="407.00" height="429.00" fill="none" stroke="#202020" stroke-width="1.12"/>
<line x1="1702.10" y1="680.30" x2="1711.50" y2="680.30" stroke="#202020" stroke-width="1.1"/>
<text font-size="26" text-anchor="end" transform="translate(1691.70 688.20) scale(0.95 1)">1.00</text>
<line x1="1702.10" y1="782.60" x2="1711.50" y2="782.60" stroke="#202020" stroke-width="1.1"/>
<text font-size="26" text-anchor="end" transform="translate(1691.70 790.50) scale(0.95 1)">0.75</text>
<line x1="1702.10" y1="884.90" x2="1711.50" y2="884.90" stroke="#202020" stroke-width="1.1"/>
<text font-size="26" text-anchor="end" transform="translate(1691.70 892.80) scale(0.95 1)">0.50</text>
<line x1="1702.10" y1="987.30" x2="1711.50" y2="987.30" stroke="#202020" stroke-width="1.1"/>
<text font-size="26" text-anchor="end" transform="translate(1691.70 995.20) scale(0.95 1)">0.25</text>
<line x1="1702.10" y1="1089.60" x2="1711.50" y2="1089.60" stroke="#202020" stroke-width="1.1"/>
<text font-size="26" text-anchor="end" transform="translate(1691.70 1097.50) scale(0.95 1)">0</text>
<line x1="1714.40" y1="1097.40" x2="1714.40" y2="1106.40" stroke="#202020" stroke-width="1.1"/>
<text font-size="25.9" text-anchor="middle" transform="translate(1714.40 1136.30) scale(0.96 1)">0</text>
<line x1="1799.30" y1="1097.40" x2="1799.30" y2="1106.40" stroke="#202020" stroke-width="1.1"/>
<text font-size="25.9" text-anchor="middle" transform="translate(1799.30 1136.30) scale(0.96 1)">0.1</text>
<line x1="1884.40" y1="1097.40" x2="1884.40" y2="1106.40" stroke="#202020" stroke-width="1.1"/>
<text font-size="25.9" text-anchor="middle" transform="translate(1884.40 1136.30) scale(0.96 1)">0.2</text>
<line x1="1969.40" y1="1097.40" x2="1969.40" y2="1106.40" stroke="#202020" stroke-width="1.1"/>
<text font-size="25.9" text-anchor="middle" transform="translate(1969.40 1136.30) scale(0.96 1)">0.3</text>
<line x1="2054.30" y1="1097.40" x2="2054.30" y2="1106.40" stroke="#202020" stroke-width="1.1"/>
<text font-size="25.9" text-anchor="middle" transform="translate(2054.30 1136.30) scale(0.96 1)">0.4</text>
<text font-size="26" text-anchor="middle" transform="translate(1915.00 1173.10) scale(0.962 1)">PP3 (distinct causal variants)</text>
<text font-size="26" text-anchor="middle" transform="translate(1621.40 882.00) rotate(-90) scale(0.962 1)" style="stroke-width:0.3px">PP4 (shared causal variant)</text>
<line x1="1746.10" y1="687.50" x2="1857.70" y2="707.90" stroke="#000" stroke-width="2.5"/>
<text font-size="24.2" text-anchor="middle" transform="translate(1945.00 708.10) scale(0.95 1)" style="stroke:none">BLUEPRINT and</text>
<text font-size="24.2" text-anchor="middle" transform="translate(1945.00 735.10) scale(0.9405 1)" style="stroke:none">Schmiedel_2018</text>
<text font-size="24.2" text-anchor="middle" transform="translate(1944.50 763.10) scale(0.95 1)" style="stroke:none">CD4<tspan dy="-10.4" font-size="16">+</tspan><tspan dy="10.4"> T cell</tspan></text>
<text font-size="32.7" transform="translate(1601.20 676.30) scale(0.92 1)" font-weight="bold" style="stroke-width:0.1px">d</text>
</g>
</svg>
</body></html>
